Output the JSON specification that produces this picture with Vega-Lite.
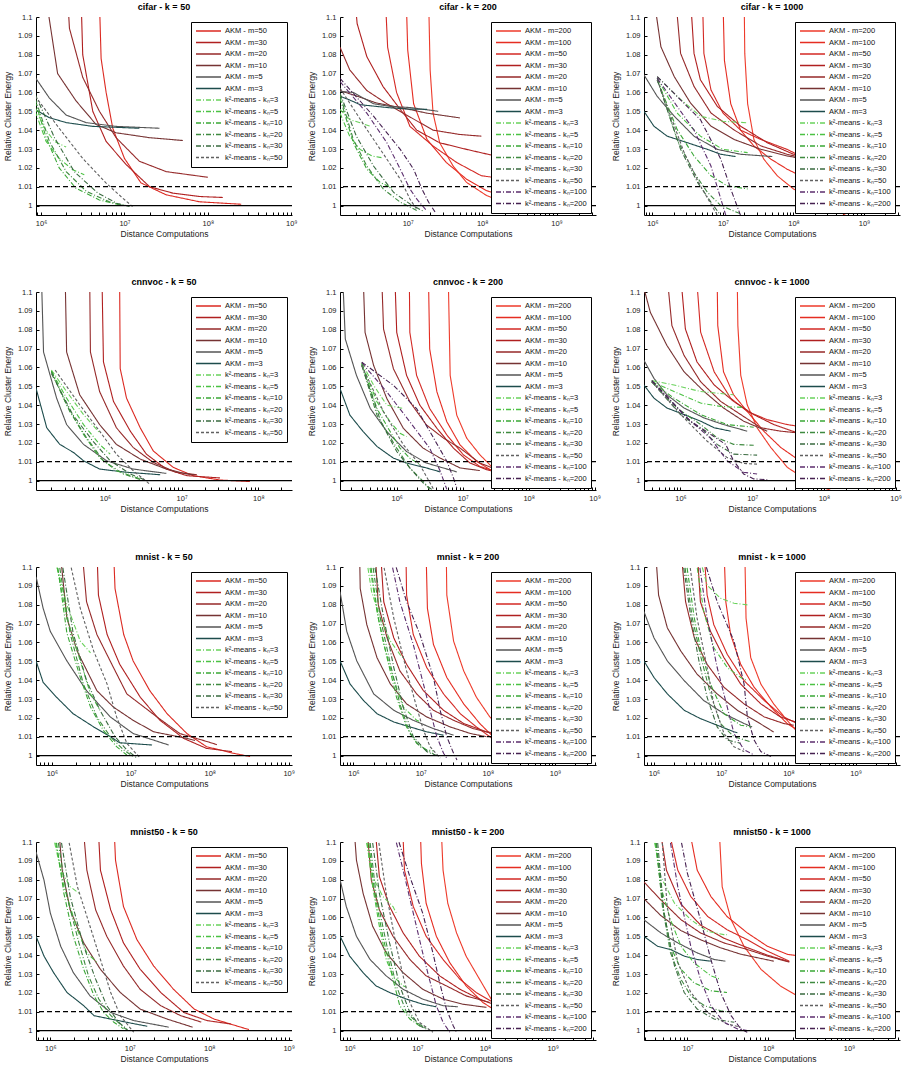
{
"$schema":"https://vega.github.io/schema/vega-lite/v6.json",
"padding":{"left":3,"top":3,"right":0,"bottom":0},
"config":{"view":{"stroke":null,"continuousWidth":256,"continuousHeight":198},"font":"Liberation Sans","numberFormat":".3~g",
"title":{"fontSize":9,"fontWeight":"bold","offset":1,"color":"#000","frame":"group"},
"axis":{"domainColor":"#000","tickColor":"#000","labelColor":"#222","titleColor":"#222","labelFontSize":7.5,"titleFontSize":8.5,"titleFontWeight":"normal","grid":false,"tickSize":-3,"labelPadding":7,"domainWidth":1,"labelOverlap":false},
"axisX":{"labelFlush":false,"labelOverlap":false,"titlePadding":3},
"axisY":{"titlePadding":5,"labelOverlap":false,"labelSeparation":-40,"labelBound":false},
"legend":{"orient":"top-right","offset":5,"padding":4,"fillColor":"white","strokeColor":"#000","labelFontSize":7.5,"labelColor":"#111","symbolType":"stroke","symbolSize":625,"symbolStrokeWidth":1.5,"clipHeight":10,"rowPadding":1.5,"labelLimit":200,"labelOffset":3}},
"resolve":{"scale":{"color":"independent","strokeDash":"independent"},"legend":{"color":"independent","strokeDash":"independent"}},
"columns":3,"spacing":{"row":77,"column":48},"bounds":"flush",
"datasets":{
"c50":[
{"s":"A50","x":5.0e6,"y":1.11},{"s":"A50","x":5.25e6,"y":1.078},{"s":"A50","x":6.03e6,"y":1.06},{"s":"A50","x":7.24e6,"y":1.041},{"s":"A50","x":1e7,"y":1.025},{"s":"A50","x":1.58e7,"y":1.012},{"s":"A50","x":3.16e7,"y":1.0057},{"s":"A50","x":7.94e7,"y":1.002},{"s":"A50","x":2.51e8,"y":1.0007},
{"s":"A30","x":3.02e6,"y":1.11},{"s":"A30","x":3.16e6,"y":1.08},{"s":"A30","x":4.17e6,"y":1.05},{"s":"A30","x":6.03e6,"y":1.034},{"s":"A30","x":1.05e7,"y":1.0217},{"s":"A30","x":2e7,"y":1.01},{"s":"A30","x":3.8e7,"y":1.0066},{"s":"A30","x":7.94e7,"y":1.0048},{"s":"A30","x":1.51e8,"y":1.0043},
{"s":"A20","x":2.09e6,"y":1.11},{"s":"A20","x":2.19e6,"y":1.094},{"s":"A20","x":3.16e6,"y":1.068},{"s":"A20","x":5.01e6,"y":1.05},{"s":"A20","x":7.94e6,"y":1.036},{"s":"A20","x":1.51e7,"y":1.0235},{"s":"A20","x":3.16e7,"y":1.018},{"s":"A20","x":1e8,"y":1.015},
{"s":"A10","x":1.15e6,"y":1.11},{"s":"A10","x":1.58e6,"y":1.07},{"s":"A10","x":2.63e6,"y":1.0555},{"s":"A10","x":4.57e6,"y":1.043},{"s":"A10","x":7.94e6,"y":1.0386},{"s":"A10","x":2e7,"y":1.036},{"s":"A10","x":5.01e7,"y":1.0345},
{"s":"A5","x":8.5e5,"y":1.068},{"s":"A5","x":1.26e6,"y":1.057},{"s":"A5","x":2e6,"y":1.048},{"s":"A5","x":3.47e6,"y":1.044},{"s":"A5","x":7.94e6,"y":1.042},{"s":"A5","x":2.63e7,"y":1.041},
{"s":"A3","x":8.5e5,"y":1.051},{"s":"A3","x":1.26e6,"y":1.0466},{"s":"A3","x":2e6,"y":1.044},{"s":"A3","x":4.17e6,"y":1.042},{"s":"A3","x":1.51e7,"y":1.041},
{"s":"K3","x":8.5e5,"y":1.052},{"s":"K3","x":1.1e6,"y":1.041},{"s":"K3","x":1.45e6,"y":1.034},{"s":"K3","x":2e6,"y":1.031},
{"s":"K5","x":8.5e5,"y":1.05},{"s":"K5","x":1.15e6,"y":1.034},{"s":"K5","x":1.65e6,"y":1.025},{"s":"K5","x":2.4e6,"y":1.019},{"s":"K5","x":3.3e6,"y":1.0164},
{"s":"K10","x":8.5e5,"y":1.0555},{"s":"K10","x":1.15e6,"y":1.036},{"s":"K10","x":1.65e6,"y":1.02},{"s":"K10","x":2.6e6,"y":1.0093},{"s":"K10","x":5e6,"y":1.003},{"s":"K10","x":9.5e6,"y":1.0},
{"s":"K20","x":8.5e5,"y":1.057},{"s":"K20","x":1.26e6,"y":1.034},{"s":"K20","x":2e6,"y":1.018},{"s":"K20","x":3.5e6,"y":1.0075},{"s":"K20","x":6.6e6,"y":1.002},{"s":"K20","x":1.05e7,"y":1.0},
{"s":"K30","x":8.5e5,"y":1.059},{"s":"K30","x":1.45e6,"y":1.036},{"s":"K30","x":2.5e6,"y":1.018},{"s":"K30","x":4.8e6,"y":1.0066},{"s":"K30","x":8.3e6,"y":1.001},{"s":"K30","x":1.15e7,"y":0.9995},
{"s":"K50","x":8.5e5,"y":1.058},{"s":"K50","x":1.65e6,"y":1.041},{"s":"K50","x":3.16e6,"y":1.025},{"s":"K50","x":6e6,"y":1.012},{"s":"K50","x":9.5e6,"y":1.004},{"s":"K50","x":1.25e7,"y":0.9995}],
"c200":[
{"s":"A200","x":1.91e7,"y":1.11},{"s":"A200","x":2e7,"y":1.072},{"s":"A200","x":2.19e7,"y":1.049},{"s":"A200","x":2.69e7,"y":1.0333},{"s":"A200","x":4.07e7,"y":1.021},{"s":"A200","x":6.17e7,"y":1.0123},{"s":"A200","x":1.15e8,"y":1.0053},{"s":"A200","x":1.74e8,"y":1.0026},{"s":"A200","x":6.31e8,"y":1.0},
{"s":"A100","x":9.55e6,"y":1.11},{"s":"A100","x":1e7,"y":1.0825},{"s":"A100","x":1.2e7,"y":1.054},{"s":"A100","x":1.82e7,"y":1.035},{"s":"A100","x":3.31e7,"y":1.0228},{"s":"A100","x":6.17e7,"y":1.014},{"s":"A100","x":1.15e8,"y":1.0079},{"s":"A100","x":2.14e8,"y":1.0044},{"s":"A100","x":6.31e8,"y":1.002},
{"s":"A50","x":5.01e6,"y":1.11},{"s":"A50","x":5.37e6,"y":1.084},{"s":"A50","x":7.08e6,"y":1.06},{"s":"A50","x":1.07e7,"y":1.042},{"s":"A50","x":2.19e7,"y":1.0316},{"s":"A50","x":4.57e7,"y":1.0228},{"s":"A50","x":9.77e7,"y":1.0158},{"s":"A50","x":1.41e8,"y":1.015},{"s":"A50","x":6.31e8,"y":1.013},
{"s":"A30","x":1.95e6,"y":1.11},{"s":"A30","x":2.09e6,"y":1.0965},{"s":"A30","x":2.82e6,"y":1.079},{"s":"A30","x":4.68e6,"y":1.063},{"s":"A30","x":7.94e6,"y":1.051},{"s":"A30","x":1.32e7,"y":1.04},{"s":"A30","x":2.69e7,"y":1.0333},{"s":"A30","x":6.17e7,"y":1.0298},{"s":"A30","x":1.26e8,"y":1.027},{"s":"A30","x":3.16e8,"y":1.025},
{"s":"A20","x":1.23e6,"y":1.084},{"s":"A20","x":1.66e6,"y":1.072},{"s":"A20","x":2.82e6,"y":1.061},{"s":"A20","x":5.25e6,"y":1.054},{"s":"A20","x":1.07e7,"y":1.047},{"s":"A20","x":2.19e7,"y":1.04},{"s":"A20","x":5.01e7,"y":1.0377},{"s":"A20","x":9.77e7,"y":1.0368},
{"s":"A10","x":1.23e6,"y":1.061},{"s":"A10","x":2.09e6,"y":1.058},{"s":"A10","x":3.8e6,"y":1.0544},{"s":"A10","x":7.94e6,"y":1.052},{"s":"A10","x":1.82e7,"y":1.049},{"s":"A10","x":5.01e7,"y":1.0465},
{"s":"A5","x":1.23e6,"y":1.0605},{"s":"A5","x":1.86e6,"y":1.06},{"s":"A5","x":3.47e6,"y":1.054},{"s":"A5","x":5.75e6,"y":1.0526},{"s":"A5","x":1.07e7,"y":1.052},{"s":"A5","x":2.57e7,"y":1.05},
{"s":"A3","x":1.23e6,"y":1.058},{"s":"A3","x":1.66e6,"y":1.056},{"s":"A3","x":2.29e6,"y":1.0535},{"s":"A3","x":5.25e6,"y":1.052},{"s":"A3","x":9.77e6,"y":1.0512},{"s":"A3","x":1.82e7,"y":1.051},
{"s":"K3","x":1.23e6,"y":1.051},{"s":"K3","x":1.66e6,"y":1.0456},{"s":"K3","x":2.29e6,"y":1.0439},{"s":"K3","x":3.16e6,"y":1.042},
{"s":"K5","x":1.23e6,"y":1.049},{"s":"K5","x":1.66e6,"y":1.0368},{"s":"K5","x":2.29e6,"y":1.0298},{"s":"K5","x":3.31e6,"y":1.0263},{"s":"K5","x":4.47e6,"y":1.0254},
{"s":"K10","x":1.23e6,"y":1.057},{"s":"K10","x":1.86e6,"y":1.0333},{"s":"K10","x":2.82e6,"y":1.0193},{"s":"K10","x":4.27e6,"y":1.0123},{"s":"K10","x":6.46e6,"y":1.0088},
{"s":"K20","x":1.23e6,"y":1.0588},{"s":"K20","x":1.86e6,"y":1.035},{"s":"K20","x":2.82e6,"y":1.021},{"s":"K20","x":4.68e6,"y":1.0088},{"s":"K20","x":7.94e6,"y":1.0018},{"s":"K20","x":1.32e7,"y":0.9974},
{"s":"K30","x":1.23e6,"y":1.0596},{"s":"K30","x":2.04e6,"y":1.0368},{"s":"K30","x":3.47e6,"y":1.021},{"s":"K30","x":6.46e6,"y":1.007},{"s":"K30","x":1.07e7,"y":1.0009},{"s":"K30","x":1.62e7,"y":0.997},
{"s":"K50","x":1.23e6,"y":1.0623},{"s":"K50","x":2.82e6,"y":1.0404},{"s":"K50","x":5.25e6,"y":1.0246},{"s":"K50","x":7.94e6,"y":1.014},{"s":"K50","x":1.07e7,"y":1.0035},{"s":"K50","x":1.32e7,"y":0.998},
{"s":"K100","x":1.23e6,"y":1.0658},{"s":"K100","x":2.82e6,"y":1.049},{"s":"K100","x":5.25e6,"y":1.0333},{"s":"K100","x":7.94e6,"y":1.0193},{"s":"K100","x":1.07e7,"y":1.0088},{"s":"K100","x":1.32e7,"y":1.0035},{"s":"K100","x":1.82e7,"y":0.997},
{"s":"K200","x":1.23e6,"y":1.0675},{"s":"K200","x":3.47e6,"y":1.0474},{"s":"K200","x":7.94e6,"y":1.0298},{"s":"K200","x":1.2e7,"y":1.0193},{"s":"K200","x":1.55e7,"y":1.0088},{"s":"K200","x":1.91e7,"y":1.0018},{"s":"K200","x":2.34e7,"y":0.9965}],
"c1k":[
{"s":"A200","x":2e7,"y":1.11},{"s":"A200","x":2.04e7,"y":1.0807},{"s":"A200","x":2.24e7,"y":1.054},{"s":"A200","x":2.75e7,"y":1.035},{"s":"A200","x":3.8e7,"y":1.0246},{"s":"A200","x":5.89e7,"y":1.0158},{"s":"A200","x":1e8,"y":1.0088},{"s":"A200","x":1.95e8,"y":1.0035},{"s":"A200","x":3.72e8,"y":0.9991},{"s":"A200","x":5.5e8,"y":0.9947},
{"s":"A100","x":1e7,"y":1.11},{"s":"A100","x":1.05e7,"y":1.077},{"s":"A100","x":1.29e7,"y":1.054},{"s":"A100","x":1.78e7,"y":1.04},{"s":"A100","x":2.75e7,"y":1.0316},{"s":"A100","x":4.79e7,"y":1.0246},{"s":"A100","x":8.13e7,"y":1.0193},{"s":"A100","x":1.26e8,"y":1.0158},{"s":"A100","x":3.72e8,"y":1.005},
{"s":"A50","x":5.13e6,"y":1.11},{"s":"A50","x":5.37e6,"y":1.0807},{"s":"A50","x":6.76e6,"y":1.0614},{"s":"A50","x":1e7,"y":1.0491},{"s":"A50","x":1.78e7,"y":1.04},{"s":"A50","x":3.47e7,"y":1.035},{"s":"A50","x":8.13e7,"y":1.0298},{"s":"A50","x":1.12e8,"y":1.0272},{"s":"A50","x":3.16e8,"y":1.025},
{"s":"A30","x":3.47e6,"y":1.11},{"s":"A30","x":3.89e6,"y":1.0807},{"s":"A30","x":4.79e6,"y":1.0667},{"s":"A30","x":8.32e6,"y":1.0526},{"s":"A30","x":1.78e7,"y":1.0421},{"s":"A30","x":4.27e7,"y":1.0333},{"s":"A30","x":1e8,"y":1.0272},{"s":"A30","x":3.16e8,"y":1.025},
{"s":"A20","x":2.14e6,"y":1.11},{"s":"A20","x":2.51e6,"y":1.0807},{"s":"A20","x":3.89e6,"y":1.0632},{"s":"A20","x":6.76e6,"y":1.0491},{"s":"A20","x":1.45e7,"y":1.04},{"s":"A20","x":3.47e7,"y":1.0316},{"s":"A20","x":8.13e7,"y":1.0272},{"s":"A20","x":1.12e8,"y":1.026},
{"s":"A10","x":1.05e6,"y":1.11},{"s":"A10","x":1.32e6,"y":1.0842},{"s":"A10","x":2.04e6,"y":1.0684},{"s":"A10","x":3.47e6,"y":1.0544},{"s":"A10","x":6.76e6,"y":1.0421},{"s":"A10","x":1.45e7,"y":1.035},{"s":"A10","x":3.47e7,"y":1.0298},{"s":"A10","x":8.13e7,"y":1.0263},{"s":"A10","x":1.12e8,"y":1.0254},
{"s":"A5","x":7.6e5,"y":1.0693},{"s":"A5","x":1.17e6,"y":1.0579},{"s":"A5","x":2.04e6,"y":1.0474},{"s":"A5","x":3.89e6,"y":1.0368},{"s":"A5","x":8.32e6,"y":1.0298},{"s":"A5","x":1.78e7,"y":1.0272},{"s":"A5","x":5.01e7,"y":1.026},
{"s":"A3","x":7.6e5,"y":1.05},{"s":"A3","x":1.05e6,"y":1.0421},{"s":"A3","x":1.62e6,"y":1.0368},{"s":"A3","x":3.16e6,"y":1.0333},{"s":"A3","x":6.03e6,"y":1.0298},{"s":"A3","x":9.33e6,"y":1.0272},{"s":"A3","x":1.51e7,"y":1.026},
{"s":"K3","x":1.17e6,"y":1.0684},{"s":"K3","x":2.24e6,"y":1.0579},{"s":"K3","x":4.79e6,"y":1.0474},{"s":"K3","x":1e7,"y":1.0447},{"s":"K3","x":2.24e7,"y":1.0439},
{"s":"K5","x":1.17e6,"y":1.0675},{"s":"K5","x":2.24e6,"y":1.0491},{"s":"K5","x":4.79e6,"y":1.0368},{"s":"K5","x":1e7,"y":1.0298},{"s":"K5","x":2.24e7,"y":1.0281},
{"s":"K10","x":1.17e6,"y":1.0667},{"s":"K10","x":2.24e6,"y":1.0404},{"s":"K10","x":3.89e6,"y":1.0263},{"s":"K10","x":6.76e6,"y":1.0158},{"s":"K10","x":1.15e7,"y":1.0105},{"s":"K10","x":2.24e7,"y":1.0088},
{"s":"K20","x":1.17e6,"y":1.0675},{"s":"K20","x":2.24e6,"y":1.035},{"s":"K20","x":3.89e6,"y":1.0175},{"s":"K20","x":6.03e6,"y":1.007},{"s":"K20","x":9.33e6,"y":1.0},{"s":"K20","x":1.78e7,"y":0.9956},
{"s":"K30","x":1.17e6,"y":1.0667},{"s":"K30","x":2.51e6,"y":1.0298},{"s":"K30","x":4.37e6,"y":1.0123},{"s":"K30","x":6.76e6,"y":1.0018},{"s":"K30","x":9.33e6,"y":0.9947},
{"s":"K50","x":1.17e6,"y":1.0667},{"s":"K50","x":2.82e6,"y":1.0281},{"s":"K50","x":4.79e6,"y":1.0105},{"s":"K50","x":7.41e6,"y":0.9982},{"s":"K50","x":8.32e6,"y":0.995},
{"s":"K100","x":1.17e6,"y":1.0675},{"s":"K100","x":3.89e6,"y":1.04},{"s":"K100","x":6.76e6,"y":1.021},{"s":"K100","x":9.33e6,"y":1.0035},{"s":"K100","x":1.1e7,"y":0.9947},
{"s":"K200","x":1.17e6,"y":1.0684},{"s":"K200","x":4.79e6,"y":1.0456},{"s":"K200","x":9.33e6,"y":1.0246},{"s":"K200","x":1.29e7,"y":1.0088},{"s":"K200","x":1.78e7,"y":0.9947}],
"v50":[
{"s":"A50","x":1.55e6,"y":1.11},{"s":"A50","x":1.58e6,"y":1.0594},{"s":"A50","x":1.91e6,"y":1.0437},{"s":"A50","x":2.88e6,"y":1.028},{"s":"A50","x":4.27e6,"y":1.0157},{"s":"A50","x":7.76e6,"y":1.007},{"s":"A50","x":1.41e7,"y":1.0026},{"s":"A50","x":3.16e7,"y":1.0003},{"s":"A50","x":7.76e7,"y":0.9995},
{"s":"A30","x":9.12e5,"y":1.11},{"s":"A30","x":9.55e5,"y":1.063},{"s":"A30","x":1.29e6,"y":1.042},{"s":"A30","x":2.14e6,"y":1.0262},{"s":"A30","x":3.47e6,"y":1.014},{"s":"A30","x":6.31e6,"y":1.0061},{"s":"A30","x":1.17e7,"y":1.0026},{"s":"A30","x":3.16e7,"y":1.0014},
{"s":"A20","x":6.31e5,"y":1.11},{"s":"A20","x":6.46e5,"y":1.0682},{"s":"A20","x":8.51e5,"y":1.0472},{"s":"A20","x":1.41e6,"y":1.028},{"s":"A20","x":2.34e6,"y":1.0175},{"s":"A20","x":4.27e6,"y":1.0096},{"s":"A20","x":8.51e6,"y":1.0044},{"s":"A20","x":1.58e7,"y":1.0031},
{"s":"A10","x":3.02e5,"y":1.11},{"s":"A10","x":3.16e5,"y":1.0682},{"s":"A10","x":4.68e5,"y":1.0455},{"s":"A10","x":8.51e5,"y":1.0297},{"s":"A10","x":1.41e6,"y":1.0192},{"s":"A10","x":2.88e6,"y":1.0114},{"s":"A10","x":6.31e6,"y":1.0061},{"s":"A10","x":1.17e7,"y":1.0035},{"s":"A10","x":1.48e7,"y":1.003},
{"s":"A5","x":1.48e5,"y":1.11},{"s":"A5","x":1.58e5,"y":1.0682},{"s":"A5","x":2.34e5,"y":1.0437},{"s":"A5","x":3.16e5,"y":1.0297},{"s":"A5","x":5.25e5,"y":1.0192},{"s":"A5","x":1.05e6,"y":1.0105},{"s":"A5","x":2.34e6,"y":1.0061},{"s":"A5","x":6.31e6,"y":1.0038},
{"s":"A3","x":1.26e5,"y":1.049},{"s":"A3","x":1.74e5,"y":1.028},{"s":"A3","x":2.57e5,"y":1.0192},{"s":"A3","x":3.89e5,"y":1.0149},{"s":"A3","x":5.25e5,"y":1.0105},{"s":"A3","x":8.51e5,"y":1.0061},{"s":"A3","x":1.91e6,"y":1.0044},{"s":"A3","x":5.25e6,"y":1.0031},
{"s":"K3","x":2e5,"y":1.0586},{"s":"K3","x":3.16e5,"y":1.0472},{"s":"K3","x":5.25e5,"y":1.035},{"s":"K3","x":8.51e5,"y":1.0253},
{"s":"K5","x":2e5,"y":1.058},{"s":"K5","x":3.16e5,"y":1.0437},{"s":"K5","x":5.25e5,"y":1.0297},{"s":"K5","x":8.51e5,"y":1.0192},{"s":"K5","x":1.17e6,"y":1.014},
{"s":"K10","x":2e5,"y":1.058},{"s":"K10","x":3.16e5,"y":1.0402},{"s":"K10","x":5.25e5,"y":1.0245},{"s":"K10","x":8.51e5,"y":1.0122},{"s":"K10","x":1.41e6,"y":1.0052},{"s":"K10","x":2.88e6,"y":1.0009},
{"s":"K20","x":2e5,"y":1.0577},{"s":"K20","x":3.47e5,"y":1.0367},{"s":"K20","x":5.75e5,"y":1.0227},{"s":"K20","x":9.55e5,"y":1.0105},{"s":"K20","x":1.74e6,"y":1.0035},{"s":"K20","x":3.16e6,"y":1.0},
{"s":"K30","x":2e5,"y":1.0568},{"s":"K30","x":3.8e5,"y":1.035},{"s":"K30","x":6.92e5,"y":1.021},{"s":"K30","x":1.17e6,"y":1.0105},{"s":"K30","x":2.14e6,"y":1.0035},{"s":"K30","x":3.47e6,"y":1.0},
{"s":"K50","x":2.24e5,"y":1.0586},{"s":"K50","x":4.68e5,"y":1.0402},{"s":"K50","x":8.51e5,"y":1.0262},{"s":"K50","x":1.41e6,"y":1.014},{"s":"K50","x":2.34e6,"y":1.0052},{"s":"K50","x":3.89e6,"y":0.9979}],
"v200":[
{"s":"A200","x":6.03e6,"y":1.11},{"s":"A200","x":6.46e6,"y":1.0558},{"s":"A200","x":8.13e6,"y":1.0347},{"s":"A200","x":1.15e7,"y":1.0225},{"s":"A200","x":1.82e7,"y":1.0137},{"s":"A200","x":2.88e7,"y":1.0067},{"s":"A200","x":4.68e7,"y":1.0032},{"s":"A200","x":1.17e8,"y":0.9996},{"s":"A200","x":2.95e8,"y":0.9988},
{"s":"A100","x":3.02e6,"y":1.11},{"s":"A100","x":3.16e6,"y":1.0698},{"s":"A100","x":4.07e6,"y":1.047},{"s":"A100","x":5.75e6,"y":1.0312},{"s":"A100","x":9.12e6,"y":1.0189},{"s":"A100","x":1.62e7,"y":1.0102},{"s":"A100","x":2.88e7,"y":1.0049},{"s":"A100","x":5.89e7,"y":1.0014},{"s":"A100","x":1.48e8,"y":0.997},
{"s":"A50","x":1.55e6,"y":1.11},{"s":"A50","x":1.58e6,"y":1.0786},{"s":"A50","x":2e6,"y":1.0558},{"s":"A50","x":3.16e6,"y":1.0382},{"s":"A50","x":5.75e6,"y":1.0242},{"s":"A50","x":1.02e7,"y":1.0137},{"s":"A50","x":1.82e7,"y":1.0075},{"s":"A50","x":3.72e7,"y":1.004},{"s":"A50","x":1e8,"y":1.002},
{"s":"A30","x":9.33e5,"y":1.11},{"s":"A30","x":1e6,"y":1.0786},{"s":"A30","x":1.41e6,"y":1.0558},{"s":"A30","x":2.24e6,"y":1.04},{"s":"A30","x":4.07e6,"y":1.0277},{"s":"A30","x":7.24e6,"y":1.0172},{"s":"A30","x":1.29e7,"y":1.0093},{"s":"A30","x":2.29e7,"y":1.0058},{"s":"A30","x":3.72e7,"y":1.004},
{"s":"A20","x":5.89e5,"y":1.11},{"s":"A20","x":6.31e5,"y":1.0804},{"s":"A20","x":8.91e5,"y":1.0593},{"s":"A20","x":1.58e6,"y":1.0418},{"s":"A20","x":2.82e6,"y":1.0295},{"s":"A20","x":5.13e6,"y":1.0225},{"s":"A20","x":9.12e6,"y":1.0172},{"s":"A20","x":1.82e7,"y":1.0093},{"s":"A20","x":3.31e7,"y":1.0058},
{"s":"A10","x":3.09e5,"y":1.11},{"s":"A10","x":3.31e5,"y":1.0786},{"s":"A10","x":4.47e5,"y":1.061},{"s":"A10","x":7.08e5,"y":1.0435},{"s":"A10","x":1.26e6,"y":1.0277},{"s":"A10","x":2.51e6,"y":1.0172},{"s":"A10","x":4.57e6,"y":1.0119},{"s":"A10","x":9.12e6,"y":1.0067},{"s":"A10","x":1.82e7,"y":1.0053},
{"s":"A5","x":1.51e5,"y":1.11},{"s":"A5","x":1.66e5,"y":1.0751},{"s":"A5","x":2.45e5,"y":1.0558},{"s":"A5","x":3.98e5,"y":1.0382},{"s":"A5","x":7.08e5,"y":1.026},{"s":"A5","x":1.41e6,"y":1.0154},{"s":"A5","x":2.82e6,"y":1.0093},{"s":"A5","x":8.13e6,"y":1.0046},
{"s":"A3","x":1.38e5,"y":1.0488},{"s":"A3","x":1.95e5,"y":1.0347},{"s":"A3","x":3.09e5,"y":1.026},{"s":"A3","x":5.01e5,"y":1.0181},{"s":"A3","x":8.91e5,"y":1.0119},{"s":"A3","x":1.41e6,"y":1.0093},{"s":"A3","x":2.82e6,"y":1.0067},{"s":"A3","x":4.57e6,"y":1.0046},
{"s":"K3","x":2.95e5,"y":1.0625},{"s":"K3","x":4.47e5,"y":1.0505},{"s":"K3","x":7.08e5,"y":1.04},{"s":"K3","x":1.26e6,"y":1.0382},
{"s":"K5","x":2.95e5,"y":1.062},{"s":"K5","x":5.01e5,"y":1.0418},{"s":"K5","x":7.94e5,"y":1.0312},{"s":"K5","x":1.12e6,"y":1.0251},{"s":"K5","x":1.41e6,"y":1.0233},
{"s":"K10","x":2.95e5,"y":1.062},{"s":"K10","x":5.01e5,"y":1.0382},{"s":"K10","x":7.94e5,"y":1.026},{"s":"K10","x":1.12e6,"y":1.0172},{"s":"K10","x":1.58e6,"y":1.0119},{"s":"K10","x":2.24e6,"y":1.0084},
{"s":"K20","x":2.95e5,"y":1.0614},{"s":"K20","x":5.01e5,"y":1.0347},{"s":"K20","x":1e6,"y":1.0172},{"s":"K20","x":1.58e6,"y":1.0067},{"s":"K20","x":2.51e6,"y":0.9996},{"s":"K20","x":3.16e6,"y":0.9953},
{"s":"K30","x":2.95e5,"y":1.061},{"s":"K30","x":5.75e5,"y":1.0312},{"s":"K30","x":1e6,"y":1.0154},{"s":"K30","x":1.58e6,"y":1.0067},{"s":"K30","x":2.51e6,"y":0.9988},{"s":"K30","x":3.39e6,"y":0.9953},
{"s":"K50","x":2.95e5,"y":1.061},{"s":"K50","x":6.31e5,"y":1.0365},{"s":"K50","x":1.26e6,"y":1.019},{"s":"K50","x":2.24e6,"y":1.0084},{"s":"K50","x":3.63e6,"y":0.9953},
{"s":"K100","x":2.95e5,"y":1.0625},{"s":"K100","x":7.08e5,"y":1.047},{"s":"K100","x":1.58e6,"y":1.0312},{"s":"K100","x":3.16e6,"y":1.0172},{"s":"K100","x":4.57e6,"y":1.0049},{"s":"K100","x":5.75e6,"y":0.9953},
{"s":"K200","x":2.95e5,"y":1.0628},{"s":"K200","x":8.91e5,"y":1.0505},{"s":"K200","x":2e6,"y":1.0382},{"s":"K200","x":3.63e6,"y":1.0225},{"s":"K200","x":5.75e6,"y":1.0102},{"s":"K200","x":7.24e6,"y":1.0014},{"s":"K200","x":8.13e6,"y":0.9961}],
"v1k":[
{"s":"A200","x":6.17e6,"y":1.11},{"s":"A200","x":6.31e6,"y":1.0822},{"s":"A200","x":6.92e6,"y":1.0559},{"s":"A200","x":8.51e6,"y":1.0402},{"s":"A200","x":1.17e7,"y":1.028},{"s":"A200","x":1.82e7,"y":1.0175},{"s":"A200","x":3.09e7,"y":1.007},{"s":"A200","x":5.89e7,"y":1.0},{"s":"A200","x":1.23e8,"y":0.9948},
{"s":"A100","x":3.24e6,"y":1.11},{"s":"A100","x":3.31e6,"y":1.0822},{"s":"A100","x":3.98e6,"y":1.0577},{"s":"A100","x":5.5e6,"y":1.0455},{"s":"A100","x":8.51e6,"y":1.0367},{"s":"A100","x":1.45e7,"y":1.0262},{"s":"A100","x":2.51e7,"y":1.0175},{"s":"A100","x":4.27e7,"y":1.0114},{"s":"A100","x":8.13e7,"y":1.0052},{"s":"A100","x":2e8,"y":1.001},
{"s":"A50","x":1.66e6,"y":1.11},{"s":"A50","x":1.91e6,"y":1.0787},{"s":"A50","x":2.95e6,"y":1.0577},{"s":"A50","x":5.01e6,"y":1.0437},{"s":"A50","x":8.51e6,"y":1.0367},{"s":"A50","x":1.62e7,"y":1.0323},{"s":"A50","x":3.09e7,"y":1.0297},{"s":"A50","x":5.89e7,"y":1.028},{"s":"A50","x":1.58e8,"y":1.026},
{"s":"A30","x":1e6,"y":1.11},{"s":"A30","x":1.17e6,"y":1.0804},{"s":"A30","x":1.7e6,"y":1.0629},{"s":"A30","x":2.95e6,"y":1.0507},{"s":"A30","x":5.5e6,"y":1.042},{"s":"A30","x":1.05e7,"y":1.035},{"s":"A30","x":2e7,"y":1.0297},{"s":"A30","x":4.27e7,"y":1.0253},{"s":"A30","x":1e8,"y":1.024},
{"s":"A20","x":6.46e5,"y":1.11},{"s":"A20","x":7.59e5,"y":1.0822},{"s":"A20","x":1.12e6,"y":1.0664},{"s":"A20","x":1.91e6,"y":1.0524},{"s":"A20","x":3.63e6,"y":1.042},{"s":"A20","x":6.92e6,"y":1.035},{"s":"A20","x":1.32e7,"y":1.028},{"s":"A20","x":2.51e7,"y":1.0262},{"s":"A20","x":4.27e7,"y":1.0253},
{"s":"A10","x":3.09e5,"y":1.102},{"s":"A10","x":3.8e5,"y":1.0892},{"s":"A10","x":6.46e5,"y":1.0717},{"s":"A10","x":1.12e6,"y":1.0577},{"s":"A10","x":2.14e6,"y":1.0472},{"s":"A10","x":3.98e6,"y":1.0385},{"s":"A10","x":7.59e6,"y":1.0315},{"s":"A10","x":1.62e7,"y":1.0262},
{"s":"A5","x":3.09e5,"y":1.0638},{"s":"A5","x":4.27e5,"y":1.0542},{"s":"A5","x":6.46e5,"y":1.0455},{"s":"A5","x":1.12e6,"y":1.0385},{"s":"A5","x":2.14e6,"y":1.0332},{"s":"A5","x":3.98e6,"y":1.0297},{"s":"A5","x":8.51e6,"y":1.0262},
{"s":"A3","x":3.09e5,"y":1.0507},{"s":"A3","x":4.27e5,"y":1.0437},{"s":"A3","x":6.46e5,"y":1.0385},{"s":"A3","x":1.12e6,"y":1.035},{"s":"A3","x":1.91e6,"y":1.0315},{"s":"A3","x":2.95e6,"y":1.028},{"s":"A3","x":5.01e6,"y":1.0262},
{"s":"K3","x":3.98e5,"y":1.053},{"s":"K3","x":8.13e5,"y":1.0507},{"s":"K3","x":1.91e6,"y":1.0472},{"s":"K3","x":5.5e6,"y":1.0455},
{"s":"K5","x":3.98e5,"y":1.0524},{"s":"K5","x":8.13e5,"y":1.0472},{"s":"K5","x":1.91e6,"y":1.0411},{"s":"K5","x":3.63e6,"y":1.0393},{"s":"K5","x":7.59e6,"y":1.0388},
{"s":"K10","x":3.98e5,"y":1.0524},{"s":"K10","x":8.13e5,"y":1.0437},{"s":"K10","x":1.91e6,"y":1.035},{"s":"K10","x":4.47e6,"y":1.0297},{"s":"K10","x":1.05e7,"y":1.0283},
{"s":"K20","x":3.98e5,"y":1.0524},{"s":"K20","x":8.91e5,"y":1.0385},{"s":"K20","x":1.91e6,"y":1.0297},{"s":"K20","x":3.24e6,"y":1.0227},{"s":"K20","x":5.5e6,"y":1.0192},{"s":"K20","x":1.05e7,"y":1.0187},
{"s":"K30","x":3.98e5,"y":1.0524},{"s":"K30","x":1e6,"y":1.035},{"s":"K30","x":2.14e6,"y":1.0262},{"s":"K30","x":3.24e6,"y":1.0192},{"s":"K30","x":5.5e6,"y":1.014},{"s":"K30","x":1.17e7,"y":1.0135},
{"s":"K50","x":3.98e5,"y":1.0524},{"s":"K50","x":1.12e6,"y":1.0332},{"s":"K50","x":2.34e6,"y":1.021},{"s":"K50","x":4.47e6,"y":1.0122},{"s":"K50","x":7.59e6,"y":1.0091},{"s":"K50","x":1.17e7,"y":1.0087},
{"s":"K100","x":3.98e5,"y":1.053},{"s":"K100","x":1.23e6,"y":1.0332},{"s":"K100","x":2.63e6,"y":1.0224},{"s":"K100","x":4.47e6,"y":1.0105},{"s":"K100","x":7.59e6,"y":1.0044},{"s":"K100","x":1.17e7,"y":1.0035},
{"s":"K200","x":3.98e5,"y":1.053},{"s":"K200","x":1.38e6,"y":1.0315},{"s":"K200","x":2.63e6,"y":1.0245},{"s":"K200","x":4.27e6,"y":1.0192},{"s":"K200","x":5.5e6,"y":1.0105},{"s":"K200","x":7.59e6,"y":1.0035},{"s":"K200","x":1.05e7,"y":1.0009},{"s":"K200","x":1.62e7,"y":1.0005}],
"m50":[
{"s":"A50","x":6.03e6,"y":1.11},{"s":"A50","x":6.31e6,"y":1.0886},{"s":"A50","x":8.13e6,"y":1.0642},{"s":"A50","x":1.07e7,"y":1.0502},{"s":"A50","x":1.74e7,"y":1.0344},{"s":"A50","x":2.88e7,"y":1.0222},{"s":"A50","x":5.13e7,"y":1.0117},{"s":"A50","x":9.12e7,"y":1.0047},{"s":"A50","x":2e8,"y":1.0012},{"s":"A50","x":3.24e8,"y":0.9995},
{"s":"A30","x":3.72e6,"y":1.11},{"s":"A30","x":3.89e6,"y":1.0851},{"s":"A30","x":5.01e6,"y":1.0642},{"s":"A30","x":7.24e6,"y":1.0484},{"s":"A30","x":1.32e7,"y":1.0309},{"s":"A30","x":2.34e7,"y":1.0187},{"s":"A30","x":4.68e7,"y":1.0091},{"s":"A30","x":9.12e7,"y":1.0038},{"s":"A30","x":1.91e8,"y":1.0021},
{"s":"A20","x":2.4e6,"y":1.11},{"s":"A20","x":2.75e6,"y":1.0816},{"s":"A20","x":3.72e6,"y":1.0642},{"s":"A20","x":6.03e6,"y":1.0467},{"s":"A20","x":8.91e6,"y":1.0327},{"s":"A20","x":2.14e7,"y":1.0205},{"s":"A20","x":4.17e7,"y":1.0117},{"s":"A20","x":9.12e7,"y":1.0075},{"s":"A20","x":1.23e8,"y":1.0058},
{"s":"A10","x":1.26e6,"y":1.11},{"s":"A10","x":1.55e6,"y":1.0729},{"s":"A10","x":2.09e6,"y":1.0554},{"s":"A10","x":3.72e6,"y":1.0344},{"s":"A10","x":6.03e6,"y":1.0257},{"s":"A10","x":1.07e7,"y":1.0187},{"s":"A10","x":1.95e7,"y":1.0126},{"s":"A10","x":5.13e7,"y":1.0091},{"s":"A10","x":6.5e7,"y":1.008},
{"s":"A5","x":6.31e5,"y":1.0948},{"s":"A5","x":7.76e5,"y":1.0781},{"s":"A5","x":9.55e5,"y":1.0659},{"s":"A5","x":1.55e6,"y":1.0502},{"s":"A5","x":2.75e6,"y":1.0344},{"s":"A5","x":5.5e6,"y":1.0205},{"s":"A5","x":1.07e7,"y":1.0117},{"s":"A5","x":3.02e7,"y":1.0056},
{"s":"A3","x":6.31e5,"y":1.0502},{"s":"A3","x":7.76e5,"y":1.0388},{"s":"A3","x":1.15e6,"y":1.0309},{"s":"A3","x":1.86e6,"y":1.0222},{"s":"A3","x":3.39e6,"y":1.0152},{"s":"A3","x":5.5e6,"y":1.01},{"s":"A3","x":7.24e6,"y":1.0068},{"s":"A3","x":1.86e7,"y":1.0056},
{"s":"K3","x":1e6,"y":1.11},{"s":"K3","x":1.55e6,"y":1.0799},{"s":"K3","x":2.29e6,"y":1.0607},{"s":"K3","x":3.09e6,"y":1.0545},
{"s":"K5","x":1.05e6,"y":1.11},{"s":"K5","x":1.55e6,"y":1.0729},{"s":"K5","x":2.29e6,"y":1.0502},{"s":"K5","x":3.09e6,"y":1.0327},{"s":"K5","x":4.07e6,"y":1.024},
{"s":"K10","x":1.1e6,"y":1.11},{"s":"K10","x":1.55e6,"y":1.065},{"s":"K10","x":2.29e6,"y":1.0414},{"s":"K10","x":3.09e6,"y":1.0257},{"s":"K10","x":4.47e6,"y":1.0135},{"s":"K10","x":6.61e6,"y":1.0047},{"s":"K10","x":8.91e6,"y":1.0003},
{"s":"K20","x":1.15e6,"y":1.11},{"s":"K20","x":1.7e6,"y":1.065},{"s":"K20","x":2.51e6,"y":1.0379},{"s":"K20","x":3.72e6,"y":1.0205},{"s":"K20","x":5.5e6,"y":1.01},{"s":"K20","x":8.13e6,"y":1.003},{"s":"K20","x":1.07e7,"y":0.9995},
{"s":"K30","x":1.26e6,"y":1.11},{"s":"K30","x":1.86e6,"y":1.065},{"s":"K30","x":2.75e6,"y":1.0397},{"s":"K30","x":4.07e6,"y":1.024},{"s":"K30","x":6.31e6,"y":1.01},{"s":"K30","x":8.91e6,"y":1.003},{"s":"K30","x":1.2e7,"y":0.9986},
{"s":"K50","x":1.55e6,"y":1.11},{"s":"K50","x":2.29e6,"y":1.0781},{"s":"K50","x":3.39e6,"y":1.0554},{"s":"K50","x":5.01e6,"y":1.0379},{"s":"K50","x":6.61e6,"y":1.0205},{"s":"K50","x":8.91e6,"y":1.0065},{"s":"K50","x":1.32e7,"y":0.9986}],
"m200":[
{"s":"A200","x":2.4e7,"y":1.11},{"s":"A200","x":2.45e7,"y":1.0851},{"s":"A200","x":3.09e7,"y":1.0607},{"s":"A200","x":4.37e7,"y":1.0449},{"s":"A200","x":6.76e7,"y":1.0309},{"s":"A200","x":1.07e8,"y":1.0205},{"s":"A200","x":1.51e8,"y":1.0152},{"s":"A200","x":2.69e8,"y":1.0082},{"s":"A200","x":6.31e8,"y":1.004},
{"s":"A100","x":1.2e7,"y":1.11},{"s":"A100","x":1.26e7,"y":1.0781},{"s":"A100","x":1.55e7,"y":1.0589},{"s":"A100","x":2.45e7,"y":1.0414},{"s":"A100","x":4.37e7,"y":1.0274},{"s":"A100","x":7.59e7,"y":1.017},{"s":"A100","x":1.2e8,"y":1.01},{"s":"A100","x":1.91e8,"y":1.0065},{"s":"A100","x":5.01e8,"y":1.003},
{"s":"A50","x":6.03e6,"y":1.11},{"s":"A50","x":6.17e6,"y":1.0851},{"s":"A50","x":7.76e6,"y":1.0642},{"s":"A50","x":1.23e7,"y":1.0467},{"s":"A50","x":2.19e7,"y":1.0327},{"s":"A50","x":3.89e7,"y":1.0222},{"s":"A50","x":6.76e7,"y":1.0152},{"s":"A50","x":1.07e8,"y":1.01},{"s":"A50","x":1.51e8,"y":1.0065},{"s":"A50","x":3.16e8,"y":1.004},
{"s":"A30","x":2.51e6,"y":1.11},{"s":"A30","x":2.82e6,"y":1.0816},{"s":"A30","x":3.98e6,"y":1.0624},{"s":"A30","x":6.17e6,"y":1.0484},{"s":"A30","x":1.1e7,"y":1.0344},{"s":"A30","x":2.19e7,"y":1.024},{"s":"A30","x":4.37e7,"y":1.017},{"s":"A30","x":9.55e7,"y":1.0126},{"s":"A30","x":2e8,"y":1.011},
{"s":"A20","x":2.09e6,"y":1.11},{"s":"A20","x":2.34e6,"y":1.0799},{"s":"A20","x":3.16e6,"y":1.0624},{"s":"A20","x":4.9e6,"y":1.0449},{"s":"A20","x":8.71e6,"y":1.0327},{"s":"A20","x":1.55e7,"y":1.024},{"s":"A20","x":3.09e7,"y":1.0187},{"s":"A20","x":6.03e7,"y":1.0143},{"s":"A20","x":1.2e8,"y":1.0117},
{"s":"A10","x":1.23e6,"y":1.11},{"s":"A10","x":1.26e6,"y":1.0886},{"s":"A10","x":1.58e6,"y":1.0694},{"s":"A10","x":2.24e6,"y":1.0519},{"s":"A10","x":3.55e6,"y":1.0379},{"s":"A10","x":6.17e6,"y":1.0274},{"s":"A10","x":1.23e7,"y":1.0205},{"s":"A10","x":2.75e7,"y":1.0152},{"s":"A10","x":5.5e7,"y":1.0117},{"s":"A10","x":9.55e7,"y":1.01},
{"s":"A5","x":6.31e5,"y":1.0869},{"s":"A5","x":7.94e5,"y":1.0659},{"s":"A5","x":1.12e6,"y":1.0502},{"s":"A5","x":2e6,"y":1.0327},{"s":"A5","x":3.98e6,"y":1.024},{"s":"A5","x":7.76e6,"y":1.0187},{"s":"A5","x":1.55e7,"y":1.0143},{"s":"A5","x":3.09e7,"y":1.0108},
{"s":"A3","x":6.31e5,"y":1.0502},{"s":"A3","x":8.91e5,"y":1.0379},{"s":"A3","x":1.41e6,"y":1.0292},{"s":"A3","x":2.24e6,"y":1.0222},{"s":"A3","x":3.98e6,"y":1.0178},{"s":"A3","x":6.92e6,"y":1.0152},{"s":"A3","x":1.23e7,"y":1.0126},{"s":"A3","x":2.19e7,"y":1.0108},
{"s":"K3","x":1.48e6,"y":1.11},{"s":"K3","x":1.86e6,"y":1.0869},{"s":"K3","x":2.51e6,"y":1.0729},{"s":"K3","x":3.55e6,"y":1.0607},{"s":"K3","x":4.9e6,"y":1.0537},{"s":"K3","x":5.5e6,"y":1.0519},
{"s":"K5","x":1.58e6,"y":1.11},{"s":"K5","x":2.24e6,"y":1.0764},{"s":"K5","x":2.82e6,"y":1.0589},{"s":"K5","x":3.89e6,"y":1.0414},{"s":"K5","x":5.5e6,"y":1.0257},{"s":"K5","x":8.71e6,"y":1.0187},{"s":"K5","x":9.77e6,"y":1.018},
{"s":"K10","x":1.66e6,"y":1.11},{"s":"K10","x":2.34e6,"y":1.0729},{"s":"K10","x":3.16e6,"y":1.0519},{"s":"K10","x":4.37e6,"y":1.0309},{"s":"K10","x":6.17e6,"y":1.0152},{"s":"K10","x":8.71e6,"y":1.0065},{"s":"K10","x":1.23e7,"y":1.003},{"s":"K10","x":1.55e7,"y":1.0025},
{"s":"K20","x":1.78e6,"y":1.11},{"s":"K20","x":2.51e6,"y":1.0729},{"s":"K20","x":3.55e6,"y":1.0484},{"s":"K20","x":4.9e6,"y":1.0274},{"s":"K20","x":6.92e6,"y":1.0117},{"s":"K20","x":9.77e6,"y":1.0047},{"s":"K20","x":1.55e7,"y":1.0009},
{"s":"K30","x":1.86e6,"y":1.11},{"s":"K30","x":2.82e6,"y":1.0729},{"s":"K30","x":3.98e6,"y":1.0467},{"s":"K30","x":5.5e6,"y":1.0257},{"s":"K30","x":7.76e6,"y":1.01},{"s":"K30","x":1.23e7,"y":1.0021},{"s":"K30","x":1.74e7,"y":1.0},
{"s":"K50","x":2.51e6,"y":1.11},{"s":"K50","x":3.98e6,"y":1.0729},{"s":"K50","x":6.17e6,"y":1.0449},{"s":"K50","x":8.71e6,"y":1.0257},{"s":"K50","x":1.1e7,"y":1.0135},{"s":"K50","x":1.38e7,"y":1.0047},{"s":"K50","x":1.95e7,"y":0.9986},
{"s":"K100","x":3.31e6,"y":1.11},{"s":"K100","x":4.9e6,"y":1.0816},{"s":"K100","x":7.76e6,"y":1.0589},{"s":"K100","x":1.1e7,"y":1.0379},{"s":"K100","x":1.38e7,"y":1.024},{"s":"K100","x":1.74e7,"y":1.01},{"s":"K100","x":2.19e7,"y":1.0012},{"s":"K100","x":2.45e7,"y":0.9986},
{"s":"K200","x":3.55e6,"y":1.11},{"s":"K200","x":6.17e6,"y":1.0816},{"s":"K200","x":9.77e6,"y":1.0642},{"s":"K200","x":1.55e7,"y":1.0414},{"s":"K200","x":1.95e7,"y":1.024},{"s":"K200","x":2.45e7,"y":1.01},{"s":"K200","x":3.09e7,"y":1.0012},{"s":"K200","x":3.47e7,"y":0.9977}],
"m1k":[
{"s":"A200","x":2.24e7,"y":1.11},{"s":"A200","x":2.34e7,"y":1.0729},{"s":"A200","x":2.75e7,"y":1.0519},{"s":"A200","x":3.89e7,"y":1.0379},{"s":"A200","x":6.03e7,"y":1.0274},{"s":"A200","x":9.55e7,"y":1.0187},{"s":"A200","x":1.51e8,"y":1.0108},{"s":"A200","x":4.79e8,"y":1.0038},{"s":"A200","x":1.26e9,"y":0.9974},
{"s":"A100","x":1.1e7,"y":1.11},{"s":"A100","x":1.17e7,"y":1.0816},{"s":"A100","x":1.38e7,"y":1.0642},{"s":"A100","x":1.95e7,"y":1.0484},{"s":"A100","x":3.09e7,"y":1.0362},{"s":"A100","x":5.5e7,"y":1.0257},{"s":"A100","x":9.55e7,"y":1.017},{"s":"A100","x":1.51e8,"y":1.0126},{"s":"A100","x":3.02e8,"y":1.0091},
{"s":"A50","x":5.5e6,"y":1.11},{"s":"A50","x":6.17e6,"y":1.0851},{"s":"A50","x":7.76e6,"y":1.0694},{"s":"A50","x":1.23e7,"y":1.0537},{"s":"A50","x":2.19e7,"y":1.0397},{"s":"A50","x":4.37e7,"y":1.0292},{"s":"A50","x":8.51e7,"y":1.0205},{"s":"A50","x":1.51e8,"y":1.0161},{"s":"A50","x":3.16e8,"y":1.013},
{"s":"A30","x":4.37e6,"y":1.11},{"s":"A30","x":4.9e6,"y":1.0816},{"s":"A30","x":6.92e6,"y":1.0659},{"s":"A30","x":1.1e7,"y":1.0519},{"s":"A30","x":1.95e7,"y":1.0379},{"s":"A30","x":3.89e7,"y":1.0274},{"s":"A30","x":7.59e7,"y":1.0205},{"s":"A30","x":1.51e8,"y":1.017},{"s":"A30","x":2.51e8,"y":1.015},
{"s":"A20","x":2.51e6,"y":1.11},{"s":"A20","x":2.95e6,"y":1.0816},{"s":"A20","x":3.98e6,"y":1.0624},{"s":"A20","x":6.17e6,"y":1.0484},{"s":"A20","x":1.1e7,"y":1.0362},{"s":"A20","x":2.19e7,"y":1.0274},{"s":"A20","x":4.37e7,"y":1.0205},{"s":"A20","x":8.51e7,"y":1.017},{"s":"A20","x":1.2e8,"y":1.0161},
{"s":"A10","x":1.05e6,"y":1.11},{"s":"A10","x":1.17e6,"y":1.0851},{"s":"A10","x":1.58e6,"y":1.0677},{"s":"A10","x":2.51e6,"y":1.0554},{"s":"A10","x":4.37e6,"y":1.0432},{"s":"A10","x":8.71e6,"y":1.0327},{"s":"A10","x":1.74e7,"y":1.024},{"s":"A10","x":3.47e7,"y":1.0178},{"s":"A10","x":6.03e7,"y":1.0125},
{"s":"A5","x":7.08e5,"y":1.0764},{"s":"A5","x":1e6,"y":1.0624},{"s":"A5","x":1.58e6,"y":1.0502},{"s":"A5","x":2.82e6,"y":1.0397},{"s":"A5","x":5.5e6,"y":1.0292},{"s":"A5","x":1.1e7,"y":1.0222},{"s":"A5","x":2.19e7,"y":1.017},{"s":"A5","x":2.88e7,"y":1.0152},
{"s":"A3","x":7.08e5,"y":1.0502},{"s":"A3","x":1e6,"y":1.0414},{"s":"A3","x":1.58e6,"y":1.0327},{"s":"A3","x":2.82e6,"y":1.024},{"s":"A3","x":4.9e6,"y":1.0196},{"s":"A3","x":8.71e6,"y":1.0161},{"s":"A3","x":1.55e7,"y":1.0126},{"s":"A3","x":1.74e7,"y":1.0121},
{"s":"K3","x":4.37e6,"y":1.11},{"s":"K3","x":6.17e6,"y":1.0904},{"s":"K3","x":9.77e6,"y":1.0834},{"s":"K3","x":1.55e7,"y":1.0808},{"s":"K3","x":2.45e7,"y":1.0799},
{"s":"K5","x":3.98e6,"y":1.11},{"s":"K5","x":5.5e6,"y":1.0764},{"s":"K5","x":7.76e6,"y":1.0572},{"s":"K5","x":1.23e7,"y":1.0467},{"s":"K5","x":1.95e7,"y":1.0414},{"s":"K5","x":2.45e7,"y":1.0397},
{"s":"K10","x":2.82e6,"y":1.11},{"s":"K10","x":3.98e6,"y":1.0729},{"s":"K10","x":5.01e6,"y":1.0554},{"s":"K10","x":6.92e6,"y":1.0379},{"s":"K10","x":1.1e7,"y":1.0222},{"s":"K10","x":1.95e7,"y":1.0161},{"s":"K10","x":2.75e7,"y":1.0152},
{"s":"K20","x":2.63e6,"y":1.11},{"s":"K20","x":3.72e6,"y":1.0729},{"s":"K20","x":5.01e6,"y":1.0519},{"s":"K20","x":6.92e6,"y":1.0327},{"s":"K20","x":9.77e6,"y":1.017},{"s":"K20","x":1.55e7,"y":1.01},{"s":"K20","x":2.75e7,"y":1.0073},
{"s":"K30","x":2.51e6,"y":1.11},{"s":"K30","x":3.55e6,"y":1.0729},{"s":"K30","x":4.68e6,"y":1.05},{"s":"K30","x":6.17e6,"y":1.0309},{"s":"K30","x":8.71e6,"y":1.0152},{"s":"K30","x":1.23e7,"y":1.0082},{"s":"K30","x":1.95e7,"y":1.0065},
{"s":"K50","x":3.16e6,"y":1.11},{"s":"K50","x":4.37e6,"y":1.0729},{"s":"K50","x":6.17e6,"y":1.0467},{"s":"K50","x":7.76e6,"y":1.0274},{"s":"K50","x":1.1e7,"y":1.0117},{"s":"K50","x":1.55e7,"y":1.0047},{"s":"K50","x":2.19e7,"y":1.0021},
{"s":"K100","x":4.37e6,"y":1.11},{"s":"K100","x":6.17e6,"y":1.0729},{"s":"K100","x":8.71e6,"y":1.0467},{"s":"K100","x":1.23e7,"y":1.0257},{"s":"K100","x":1.55e7,"y":1.0117},{"s":"K100","x":2.19e7,"y":1.003},{"s":"K100","x":3.09e7,"y":1.0003},
{"s":"K200","x":4.9e6,"y":1.11},{"s":"K200","x":8.71e6,"y":1.0816},{"s":"K200","x":1.55e7,"y":1.0607},{"s":"K200","x":2.19e7,"y":1.0379},{"s":"K200","x":2.45e7,"y":1.0205},{"s":"K200","x":3.09e7,"y":1.0082},{"s":"K200","x":3.89e7,"y":1.0021},{"s":"K200","x":5.5e7,"y":0.9995}],
"n50":[
{"s":"A50","x":6.31e6,"y":1.11},{"s":"A50","x":6.61e6,"y":1.0904},{"s":"A50","x":8.32e6,"y":1.0658},{"s":"A50","x":1.23e7,"y":1.0482},{"s":"A50","x":2e7,"y":1.0342},{"s":"A50","x":3.55e7,"y":1.0219},{"s":"A50","x":6.46e7,"y":1.0114},{"s":"A50","x":1.15e8,"y":1.0061},{"s":"A50","x":3.16e8,"y":1.0005},
{"s":"A30","x":3.98e6,"y":1.11},{"s":"A30","x":4.27e6,"y":1.0851},{"s":"A30","x":5.75e6,"y":1.064},{"s":"A30","x":8.32e6,"y":1.0465},{"s":"A30","x":1.35e7,"y":1.0325},{"s":"A30","x":2.45e7,"y":1.0202},{"s":"A30","x":4.79e7,"y":1.0096},{"s":"A30","x":9.33e7,"y":1.0053},{"s":"A30","x":1.86e8,"y":1.0035},
{"s":"A20","x":2.57e6,"y":1.11},{"s":"A20","x":2.88e6,"y":1.0851},{"s":"A20","x":3.72e6,"y":1.064},{"s":"A20","x":5.13e6,"y":1.05},{"s":"A20","x":8.32e6,"y":1.0342},{"s":"A20","x":1.35e7,"y":1.0219},{"s":"A20","x":2.45e7,"y":1.0132},{"s":"A20","x":4.37e7,"y":1.0079},{"s":"A20","x":7.94e7,"y":1.0045},
{"s":"A10","x":1.26e6,"y":1.11},{"s":"A10","x":1.41e6,"y":1.0851},{"s":"A10","x":1.78e6,"y":1.064},{"s":"A10","x":2.63e6,"y":1.0465},{"s":"A10","x":4.27e6,"y":1.0325},{"s":"A10","x":7.59e6,"y":1.0202},{"s":"A10","x":1.35e7,"y":1.0114},{"s":"A10","x":2.95e7,"y":1.0061},{"s":"A10","x":6.17e7,"y":1.0018},
{"s":"A5","x":6.61e5,"y":1.0947},{"s":"A5","x":8.32e5,"y":1.0798},{"s":"A5","x":1e6,"y":1.0623},{"s":"A5","x":1.35e6,"y":1.0447},{"s":"A5","x":1.95e6,"y":1.0307},{"s":"A5","x":3.16e6,"y":1.0184},{"s":"A5","x":5.75e6,"y":1.0096},{"s":"A5","x":1.12e7,"y":1.0053},{"s":"A5","x":3.09e7,"y":1.0018},
{"s":"A3","x":6.61e5,"y":1.05},{"s":"A3","x":8.32e5,"y":1.0395},{"s":"A3","x":1.1e6,"y":1.0307},{"s":"A3","x":1.62e6,"y":1.0202},{"s":"A3","x":2.63e6,"y":1.0132},{"s":"A3","x":3.55e6,"y":1.0079},{"s":"A3","x":5.75e6,"y":1.0061},{"s":"A3","x":1.02e7,"y":1.004},{"s":"A3","x":1.66e7,"y":1.0023},
{"s":"K3","x":1e6,"y":1.11},{"s":"K3","x":1.35e6,"y":1.0851},{"s":"K3","x":1.78e6,"y":1.0763},{"s":"K3","x":2.29e6,"y":1.0728},
{"s":"K5","x":1.05e6,"y":1.11},{"s":"K5","x":1.48e6,"y":1.0763},{"s":"K5","x":2.19e6,"y":1.0535},{"s":"K5","x":2.88e6,"y":1.0412},{"s":"K5","x":3.89e6,"y":1.036},
{"s":"K10","x":1.1e6,"y":1.11},{"s":"K10","x":1.48e6,"y":1.0728},{"s":"K10","x":1.95e6,"y":1.05},{"s":"K10","x":2.63e6,"y":1.0325},{"s":"K10","x":3.55e6,"y":1.0184},{"s":"K10","x":4.68e6,"y":1.0096},{"s":"K10","x":6.31e6,"y":1.0044},{"s":"K10","x":8.32e6,"y":1.0009},
{"s":"K20","x":1.15e6,"y":1.11},{"s":"K20","x":1.62e6,"y":1.071},{"s":"K20","x":2.29e6,"y":1.0465},{"s":"K20","x":3.02e6,"y":1.029},{"s":"K20","x":4.07e6,"y":1.0167},{"s":"K20","x":5.75e6,"y":1.008},{"s":"K20","x":8.32e6,"y":1.0018},{"s":"K20","x":9.77e6,"y":0.9995},
{"s":"K30","x":1.26e6,"y":1.11},{"s":"K30","x":1.78e6,"y":1.071},{"s":"K30","x":2.63e6,"y":1.0447},{"s":"K30","x":3.72e6,"y":1.0272},{"s":"K30","x":5.13e6,"y":1.0132},{"s":"K30","x":7.24e6,"y":1.0044},{"s":"K30","x":9.33e6,"y":1.0005},
{"s":"K50","x":1.55e6,"y":1.11},{"s":"K50","x":2.19e6,"y":1.0763},{"s":"K50","x":3.16e6,"y":1.0553},{"s":"K50","x":4.27e6,"y":1.0377},{"s":"K50","x":5.75e6,"y":1.0202},{"s":"K50","x":7.59e6,"y":1.0079},{"s":"K50","x":1.12e7,"y":0.9991}],
"n200":[
{"s":"A200","x":2.24e7,"y":1.11},{"s":"A200","x":2.4e7,"y":1.0851},{"s":"A200","x":2.82e7,"y":1.0675},{"s":"A200","x":3.8e7,"y":1.0518},{"s":"A200","x":5.25e7,"y":1.0395},{"s":"A200","x":8.32e7,"y":1.0272},{"s":"A200","x":1.32e8,"y":1.0149},{"s":"A200","x":1.66e8,"y":1.0096},{"s":"A200","x":2.57e8,"y":1.0061},{"s":"A200","x":1e9,"y":0.9985},
{"s":"A100","x":1.1e7,"y":1.11},{"s":"A100","x":1.15e7,"y":1.0886},{"s":"A100","x":1.35e7,"y":1.0675},{"s":"A100","x":1.91e7,"y":1.05},{"s":"A100","x":3.02e7,"y":1.036},{"s":"A100","x":5.25e7,"y":1.0237},{"s":"A100","x":9.33e7,"y":1.0149},{"s":"A100","x":1.32e8,"y":1.0114},{"s":"A100","x":2.57e8,"y":1.0079},
{"s":"A50","x":6.03e6,"y":1.11},{"s":"A50","x":6.46e6,"y":1.0851},{"s":"A50","x":8.71e6,"y":1.0658},{"s":"A50","x":1.35e7,"y":1.05},{"s":"A50","x":2.4e7,"y":1.0377},{"s":"A50","x":4.27e7,"y":1.0272},{"s":"A50","x":7.41e7,"y":1.0202},{"s":"A50","x":1.32e8,"y":1.0149},{"s":"A50","x":2.51e8,"y":1.012},
{"s":"A30","x":2.34e6,"y":1.11},{"s":"A30","x":2.75e6,"y":1.0816},{"s":"A30","x":3.89e6,"y":1.0658},{"s":"A30","x":6.17e6,"y":1.0518},{"s":"A30","x":1.07e7,"y":1.0395},{"s":"A30","x":2.14e7,"y":1.029},{"s":"A30","x":4.27e7,"y":1.0219},{"s":"A30","x":8.32e7,"y":1.0167},{"s":"A30","x":1.32e8,"y":1.014},
{"s":"A20","x":1.78e6,"y":1.11},{"s":"A20","x":2.09e6,"y":1.0798},{"s":"A20","x":2.75e6,"y":1.064},{"s":"A20","x":4.37e6,"y":1.05},{"s":"A20","x":7.76e6,"y":1.0377},{"s":"A20","x":1.35e7,"y":1.029},{"s":"A20","x":2.69e7,"y":1.0237},{"s":"A20","x":5.25e7,"y":1.0184},{"s":"A20","x":1.17e8,"y":1.0149},
{"s":"A10","x":1.15e6,"y":1.11},{"s":"A10","x":1.26e6,"y":1.0904},{"s":"A10","x":1.58e6,"y":1.0728},{"s":"A10","x":2.19e6,"y":1.0553},{"s":"A10","x":3.47e6,"y":1.0412},{"s":"A10","x":6.17e6,"y":1.0307},{"s":"A10","x":1.2e7,"y":1.0219},{"s":"A10","x":2.4e7,"y":1.0167},{"s":"A10","x":4.68e7,"y":1.014},{"s":"A10","x":1.05e8,"y":1.0123},
{"s":"A5","x":7.24e5,"y":1.0798},{"s":"A5","x":8.91e5,"y":1.0658},{"s":"A5","x":1.26e6,"y":1.05},{"s":"A5","x":2e6,"y":1.0377},{"s":"A5","x":3.47e6,"y":1.029},{"s":"A5","x":6.17e6,"y":1.0219},{"s":"A5","x":1.2e7,"y":1.0167},{"s":"A5","x":2.4e7,"y":1.0132},{"s":"A5","x":3.98e7,"y":1.0126},
{"s":"A3","x":7.24e5,"y":1.05},{"s":"A3","x":1e6,"y":1.0395},{"s":"A3","x":1.58e6,"y":1.0307},{"s":"A3","x":2.45e6,"y":1.0237},{"s":"A3","x":3.89e6,"y":1.0202},{"s":"A3","x":6.92e6,"y":1.0167},{"s":"A3","x":1.2e7,"y":1.014},{"s":"A3","x":1.91e7,"y":1.0126},
{"s":"K3","x":1.58e6,"y":1.11},{"s":"K3","x":2.19e6,"y":1.0816},{"s":"K3","x":3.09e6,"y":1.0711},{"s":"K3","x":4.37e6,"y":1.0658},{"s":"K3","x":4.9e6,"y":1.0623},
{"s":"K5","x":1.66e6,"y":1.11},{"s":"K5","x":2.19e6,"y":1.0763},{"s":"K5","x":2.75e6,"y":1.0553},{"s":"K5","x":3.47e6,"y":1.0377},{"s":"K5","x":4.37e6,"y":1.029},{"s":"K5","x":6.17e6,"y":1.0237},{"s":"K5","x":6.92e6,"y":1.023},
{"s":"K10","x":1.78e6,"y":1.11},{"s":"K10","x":2.34e6,"y":1.0728},{"s":"K10","x":3.09e6,"y":1.05},{"s":"K10","x":4.37e6,"y":1.0272},{"s":"K10","x":5.5e6,"y":1.0132},{"s":"K10","x":7.76e6,"y":1.0061},{"s":"K10","x":1.07e7,"y":1.0026},{"s":"K10","x":1.35e7,"y":1.0018},
{"s":"K20","x":1.86e6,"y":1.11},{"s":"K20","x":2.45e6,"y":1.0728},{"s":"K20","x":3.47e6,"y":1.0465},{"s":"K20","x":4.9e6,"y":1.0237},{"s":"K20","x":6.92e6,"y":1.0096},{"s":"K20","x":9.77e6,"y":1.0044},{"s":"K20","x":1.35e7,"y":1.0009},
{"s":"K30","x":2e6,"y":1.11},{"s":"K30","x":2.75e6,"y":1.0728},{"s":"K30","x":3.89e6,"y":1.0465},{"s":"K30","x":5.5e6,"y":1.0237},{"s":"K30","x":7.76e6,"y":1.0096},{"s":"K30","x":1.07e7,"y":1.0026},{"s":"K30","x":1.51e7,"y":1.0},
{"s":"K50","x":2.45e6,"y":1.11},{"s":"K50","x":3.47e6,"y":1.0728},{"s":"K50","x":4.9e6,"y":1.0447},{"s":"K50","x":6.17e6,"y":1.029},{"s":"K50","x":7.76e6,"y":1.0149},{"s":"K50","x":1.07e7,"y":1.0044},{"s":"K50","x":1.7e7,"y":0.9991},
{"s":"K100","x":4.17e6,"y":1.11},{"s":"K100","x":6.17e6,"y":1.0851},{"s":"K100","x":8.71e6,"y":1.0623},{"s":"K100","x":1.2e7,"y":1.0412},{"s":"K100","x":1.51e7,"y":1.0272},{"s":"K100","x":1.91e7,"y":1.0132},{"s":"K100","x":2.4e7,"y":1.0044},{"s":"K100","x":3.02e7,"y":0.9991},
{"s":"K200","x":4.37e6,"y":1.11},{"s":"K200","x":7.76e6,"y":1.0816},{"s":"K200","x":1.2e7,"y":1.0623},{"s":"K200","x":1.7e7,"y":1.0412},{"s":"K200","x":2.14e7,"y":1.0254},{"s":"K200","x":2.69e7,"y":1.0114},{"s":"K200","x":3.39e7,"y":1.0026},{"s":"K200","x":3.8e7,"y":0.9991}],
"n1k":[
{"s":"A200","x":2.45e7,"y":1.11},{"s":"A200","x":2.69e7,"y":1.0763},{"s":"A200","x":3.47e7,"y":1.0588},{"s":"A200","x":5.01e7,"y":1.0447},{"s":"A200","x":8.13e7,"y":1.0325},{"s":"A200","x":1.41e8,"y":1.0237},{"s":"A200","x":2.29e8,"y":1.0184},{"s":"A200","x":4.07e8,"y":1.0096},{"s":"A200","x":7.94e8,"y":1.0009},{"s":"A200","x":1.2e9,"y":0.9974},
{"s":"A100","x":1.02e7,"y":1.11},{"s":"A100","x":1.32e7,"y":1.0851},{"s":"A100","x":1.95e7,"y":1.0711},{"s":"A100","x":3.09e7,"y":1.0605},{"s":"A100","x":5.5e7,"y":1.0518},{"s":"A100","x":9.77e7,"y":1.0447},{"s":"A100","x":1.74e8,"y":1.0404},{"s":"A100","x":2.51e8,"y":1.0395},
{"s":"A50","x":5.62e6,"y":1.11},{"s":"A50","x":7.59e6,"y":1.0851},{"s":"A50","x":1.1e7,"y":1.0711},{"s":"A50","x":1.78e7,"y":1.0605},{"s":"A50","x":3.09e7,"y":1.0535},{"s":"A50","x":5.5e7,"y":1.0482},{"s":"A50","x":9.77e7,"y":1.0421},{"s":"A50","x":1.82e8,"y":1.0368},
{"s":"A30","x":4.47e6,"y":1.11},{"s":"A30","x":5.5e6,"y":1.085},{"s":"A30","x":8.32e6,"y":1.067},{"s":"A30","x":1.45e7,"y":1.056},{"s":"A30","x":2.82e7,"y":1.049},{"s":"A30","x":5.5e7,"y":1.044},{"s":"A30","x":9.77e7,"y":1.04},{"s":"A30","x":1.82e8,"y":1.0365},
{"s":"A20","x":2.88e6,"y":1.0789},{"s":"A20","x":4.68e6,"y":1.0693},{"s":"A20","x":8.32e6,"y":1.0588},{"s":"A20","x":1.45e7,"y":1.0518},{"s":"A20","x":2.82e7,"y":1.0465},{"s":"A20","x":5.5e7,"y":1.043},{"s":"A20","x":9.77e7,"y":1.0395},{"s":"A20","x":1.82e8,"y":1.0363},
{"s":"A10","x":2.88e6,"y":1.07},{"s":"A10","x":4.68e6,"y":1.061},{"s":"A10","x":8.32e6,"y":1.053},{"s":"A10","x":1.45e7,"y":1.0482},{"s":"A10","x":2.57e7,"y":1.0439},{"s":"A10","x":4.57e7,"y":1.0405},{"s":"A10","x":1.17e8,"y":1.0368},
{"s":"A5","x":2.88e6,"y":1.0588},{"s":"A5","x":4.68e6,"y":1.0518},{"s":"A5","x":7.59e6,"y":1.0465},{"s":"A5","x":1.32e7,"y":1.0412},{"s":"A5","x":2.14e7,"y":1.0377},{"s":"A5","x":2.95e7,"y":1.0368},
{"s":"A3","x":2.88e6,"y":1.05},{"s":"A3","x":4.27e6,"y":1.0447},{"s":"A3","x":6.17e6,"y":1.043},{"s":"A3","x":9.12e6,"y":1.0395},{"s":"A3","x":1.32e7,"y":1.0377},{"s":"A3","x":1.95e7,"y":1.0368},
{"s":"K3","x":3.55e6,"y":1.11},{"s":"K3","x":4.68e6,"y":1.0816},{"s":"K3","x":6.92e6,"y":1.0675},{"s":"K3","x":1.1e7,"y":1.0588},{"s":"K3","x":1.78e7,"y":1.0526},{"s":"K3","x":2.82e7,"y":1.0509},{"s":"K3","x":3.09e7,"y":1.0509},
{"s":"K5","x":3.72e6,"y":1.11},{"s":"K5","x":4.68e6,"y":1.0763},{"s":"K5","x":6.17e6,"y":1.0588},{"s":"K5","x":8.32e6,"y":1.0447},{"s":"K5","x":1.2e7,"y":1.036},{"s":"K5","x":1.95e7,"y":1.029},{"s":"K5","x":2.57e7,"y":1.0272},
{"s":"K10","x":3.89e6,"y":1.11},{"s":"K10","x":4.9e6,"y":1.0675},{"s":"K10","x":6.17e6,"y":1.0447},{"s":"K10","x":8.32e6,"y":1.0325},{"s":"K10","x":1.2e7,"y":1.0254},{"s":"K10","x":1.95e7,"y":1.0211},{"s":"K10","x":3.09e7,"y":1.0202},
{"s":"K20","x":3.89e6,"y":1.11},{"s":"K20","x":4.9e6,"y":1.0658},{"s":"K20","x":6.17e6,"y":1.0412},{"s":"K20","x":8.32e6,"y":1.0272},{"s":"K20","x":1.1e7,"y":1.0184},{"s":"K20","x":1.62e7,"y":1.0132},{"s":"K20","x":2.57e7,"y":1.0105},{"s":"K20","x":3.09e7,"y":1.01},
{"s":"K30","x":4.07e6,"y":1.11},{"s":"K30","x":5.13e6,"y":1.0623},{"s":"K30","x":6.92e6,"y":1.0342},{"s":"K30","x":9.12e6,"y":1.0202},{"s":"K30","x":1.32e7,"y":1.0114},{"s":"K30","x":2.14e7,"y":1.0061},{"s":"K30","x":3.8e7,"y":1.0044},
{"s":"K50","x":4.68e6,"y":1.11},{"s":"K50","x":5.62e6,"y":1.0658},{"s":"K50","x":7.59e6,"y":1.036},{"s":"K50","x":1.1e7,"y":1.0202},{"s":"K50","x":1.78e7,"y":1.0096},{"s":"K50","x":3.09e7,"y":1.0035},{"s":"K50","x":4.57e7,"y":1.0018},
{"s":"K100","x":5.62e6,"y":1.11},{"s":"K100","x":7.59e6,"y":1.0763},{"s":"K100","x":1.1e7,"y":1.0447},{"s":"K100","x":1.45e7,"y":1.0272},{"s":"K100","x":1.95e7,"y":1.0132},{"s":"K100","x":2.82e7,"y":1.0044},{"s":"K100","x":4.17e7,"y":1.0009},{"s":"K100","x":5.5e7,"y":1.0},
{"s":"K200","x":7.59e6,"y":1.11},{"s":"K200","x":1e7,"y":1.0833},{"s":"K200","x":1.45e7,"y":1.0588},{"s":"K200","x":1.95e7,"y":1.0377},{"s":"K200","x":2.57e7,"y":1.0202},{"s":"K200","x":3.47e7,"y":1.0079},{"s":"K200","x":4.57e7,"y":1.0009},{"s":"K200","x":5.5e7,"y":0.9991}]
},
"concat":[
{"title":"cifar - k = 50","data":{"name":"c50"},"layer":[
{"mark":{"type":"line","clip":true,"strokeWidth":1.1},"encoding":{
"x":{"field":"x","type":"quantitative","scale":{"type":"log","domain":[870000,1020000000],"nice":false},"axis":{"title":"Distance Computations","labelExpr":"abs(log(datum.value)/LN10-round(log(datum.value)/LN10))<0.01?'10'+['⁰','¹','²','³','⁴','⁵','⁶','⁷','⁸','⁹'][round(log(datum.value)/LN10)]:''"}},
"y":{"field":"y","type":"quantitative","scale":{"domain":[0.995,1.1],"nice":false,"zero":false},"axis":{"title":"Relative Cluster Energy","labelOverlap":false,"labelSeparation":-40,"tickCount":11,"values":[1,1.01,1.02,1.03,1.04,1.05,1.06,1.07,1.08,1.09,1.1]}},
"color":{"field":"s","type":"nominal","scale":{"domain":["A50","A30","A20","A10","A5","A3","K3","K5","K10","K20","K30","K50"],"range":["#dc2a22","#b02020","#962a2a","#763333","#555555","#1d4c4c","#6ad25c","#4cc244","#3aa836","#3f8a40","#3a6b40","#606060"]},"legend":{"title":null,"labelExpr":"slice(datum.label,0,1)=='A'?'AKM - m='+slice(datum.label,1):'k²-means - kₙ='+slice(datum.label,1)"}},
"strokeDash":{"field":"s","type":"nominal","scale":{"domain":["A50","A30","A20","A10","A5","A3","K3","K5","K10","K20","K30","K50"],"range":[[1,0],[1,0],[1,0],[1,0],[1,0],[1,0],[5,2,1,2],[5,2,1,2],[5,2,1,2],[5,2,1,2],[5,2,1,2],[3,2]]},"legend":{"title":null,"labelExpr":"slice(datum.label,0,1)=='A'?'AKM - m='+slice(datum.label,1):'k²-means - kₙ='+slice(datum.label,1)"}}}},
{"data":{"values":[{}]},"mark":{"type":"rule","color":"#000","strokeWidth":1.3},"encoding":{"y":{"datum":1}}},
{"data":{"values":[{}]},"mark":{"type":"rule","color":"#000","strokeWidth":1.2,"strokeDash":[5,3]},"encoding":{"y":{"datum":1.01}}}]},
{"title":"cifar - k = 200","data":{"name":"c200"},"layer":[
{"mark":{"type":"line","clip":true,"strokeWidth":1.1},"encoding":{
"x":{"field":"x","type":"quantitative","scale":{"type":"log","domain":[1230000,3390000000],"nice":false},"axis":{"title":"Distance Computations","labelExpr":"abs(log(datum.value)/LN10-round(log(datum.value)/LN10))<0.01?'10'+['⁰','¹','²','³','⁴','⁵','⁶','⁷','⁸','⁹'][round(log(datum.value)/LN10)]:''"}},
"y":{"field":"y","type":"quantitative","scale":{"domain":[0.995,1.1],"nice":false,"zero":false},"axis":{"title":"Relative Cluster Energy","labelOverlap":false,"labelSeparation":-40,"tickCount":11,"values":[1,1.01,1.02,1.03,1.04,1.05,1.06,1.07,1.08,1.09,1.1]}},
"color":{"field":"s","type":"nominal","scale":{"domain":["A200","A100","A50","A30","A20","A10","A5","A3","K3","K5","K10","K20","K30","K50","K100","K200"],"range":["#ee3b2b","#e52d22","#d42a25","#b02020","#962a2a","#763333","#555555","#1d4c4c","#6ad25c","#4cc244","#3aa836","#3f8a40","#3a6b40","#606060","#5c2e6e","#452050"]},"legend":{"title":null,"labelExpr":"slice(datum.label,0,1)=='A'?'AKM - m='+slice(datum.label,1):'k²-means - kₙ='+slice(datum.label,1)"}},
"strokeDash":{"field":"s","type":"nominal","scale":{"domain":["A200","A100","A50","A30","A20","A10","A5","A3","K3","K5","K10","K20","K30","K50","K100","K200"],"range":[[1,0],[1,0],[1,0],[1,0],[1,0],[1,0],[1,0],[1,0],[5,2,1,2],[5,2,1,2],[5,2,1,2],[5,2,1,2],[5,2,1,2],[3,2],[5,2,1,2],[5,2,1,2]]},"legend":{"title":null,"labelExpr":"slice(datum.label,0,1)=='A'?'AKM - m='+slice(datum.label,1):'k²-means - kₙ='+slice(datum.label,1)"}}}},
{"data":{"values":[{}]},"mark":{"type":"rule","color":"#000","strokeWidth":1.3},"encoding":{"y":{"datum":1}}},
{"data":{"values":[{}]},"mark":{"type":"rule","color":"#000","strokeWidth":1.2,"strokeDash":[5,3]},"encoding":{"y":{"datum":1.01}}}]},
{"title":"cifar - k = 1000","data":{"name":"c1k"},"layer":[
{"mark":{"type":"line","clip":true,"strokeWidth":1.1},"encoding":{
"x":{"field":"x","type":"quantitative","scale":{"type":"log","domain":[760000,3240000000],"nice":false},"axis":{"title":"Distance Computations","labelExpr":"abs(log(datum.value)/LN10-round(log(datum.value)/LN10))<0.01?'10'+['⁰','¹','²','³','⁴','⁵','⁶','⁷','⁸','⁹'][round(log(datum.value)/LN10)]:''"}},
"y":{"field":"y","type":"quantitative","scale":{"domain":[0.995,1.1],"nice":false,"zero":false},"axis":{"title":"Relative Cluster Energy","labelOverlap":false,"labelSeparation":-40,"tickCount":11,"values":[1,1.01,1.02,1.03,1.04,1.05,1.06,1.07,1.08,1.09,1.1]}},
"color":{"field":"s","type":"nominal","scale":{"domain":["A200","A100","A50","A30","A20","A10","A5","A3","K3","K5","K10","K20","K30","K50","K100","K200"],"range":["#ee3b2b","#e52d22","#d42a25","#b02020","#962a2a","#763333","#555555","#1d4c4c","#6ad25c","#4cc244","#3aa836","#3f8a40","#3a6b40","#606060","#5c2e6e","#452050"]},"legend":{"title":null,"labelExpr":"slice(datum.label,0,1)=='A'?'AKM - m='+slice(datum.label,1):'k²-means - kₙ='+slice(datum.label,1)"}},
"strokeDash":{"field":"s","type":"nominal","scale":{"domain":["A200","A100","A50","A30","A20","A10","A5","A3","K3","K5","K10","K20","K30","K50","K100","K200"],"range":[[1,0],[1,0],[1,0],[1,0],[1,0],[1,0],[1,0],[1,0],[5,2,1,2],[5,2,1,2],[5,2,1,2],[5,2,1,2],[5,2,1,2],[3,2],[5,2,1,2],[5,2,1,2]]},"legend":{"title":null,"labelExpr":"slice(datum.label,0,1)=='A'?'AKM - m='+slice(datum.label,1):'k²-means - kₙ='+slice(datum.label,1)"}}}},
{"data":{"values":[{}]},"mark":{"type":"rule","color":"#000","strokeWidth":1.3},"encoding":{"y":{"datum":1}}},
{"data":{"values":[{}]},"mark":{"type":"rule","color":"#000","strokeWidth":1.2,"strokeDash":[5,3]},"encoding":{"y":{"datum":1.01}}}]},
{"title":"cnnvoc - k = 50","data":{"name":"v50"},"layer":[
{"mark":{"type":"line","clip":true,"strokeWidth":1.1},"encoding":{
"x":{"field":"x","type":"quantitative","scale":{"type":"log","domain":[126000,275000000],"nice":false},"axis":{"title":"Distance Computations","labelExpr":"abs(log(datum.value)/LN10-round(log(datum.value)/LN10))<0.01?'10'+['⁰','¹','²','³','⁴','⁵','⁶','⁷','⁸','⁹'][round(log(datum.value)/LN10)]:''"}},
"y":{"field":"y","type":"quantitative","scale":{"domain":[0.995,1.1],"nice":false,"zero":false},"axis":{"title":"Relative Cluster Energy","labelOverlap":false,"labelSeparation":-40,"tickCount":11,"values":[1,1.01,1.02,1.03,1.04,1.05,1.06,1.07,1.08,1.09,1.1]}},
"color":{"field":"s","type":"nominal","scale":{"domain":["A50","A30","A20","A10","A5","A3","K3","K5","K10","K20","K30","K50"],"range":["#dc2a22","#b02020","#962a2a","#763333","#555555","#1d4c4c","#6ad25c","#4cc244","#3aa836","#3f8a40","#3a6b40","#606060"]},"legend":{"title":null,"labelExpr":"slice(datum.label,0,1)=='A'?'AKM - m='+slice(datum.label,1):'k²-means - kₙ='+slice(datum.label,1)"}},
"strokeDash":{"field":"s","type":"nominal","scale":{"domain":["A50","A30","A20","A10","A5","A3","K3","K5","K10","K20","K30","K50"],"range":[[1,0],[1,0],[1,0],[1,0],[1,0],[1,0],[5,2,1,2],[5,2,1,2],[5,2,1,2],[5,2,1,2],[5,2,1,2],[3,2]]},"legend":{"title":null,"labelExpr":"slice(datum.label,0,1)=='A'?'AKM - m='+slice(datum.label,1):'k²-means - kₙ='+slice(datum.label,1)"}}}},
{"data":{"values":[{}]},"mark":{"type":"rule","color":"#000","strokeWidth":1.3},"encoding":{"y":{"datum":1}}},
{"data":{"values":[{}]},"mark":{"type":"rule","color":"#000","strokeWidth":1.2,"strokeDash":[5,3]},"encoding":{"y":{"datum":1.01}}}]},
{"title":"cnnvoc - k = 200","data":{"name":"v200"},"layer":[
{"mark":{"type":"line","clip":true,"strokeWidth":1.1},"encoding":{
"x":{"field":"x","type":"quantitative","scale":{"type":"log","domain":[138000,1050000000],"nice":false},"axis":{"title":"Distance Computations","labelExpr":"abs(log(datum.value)/LN10-round(log(datum.value)/LN10))<0.01?'10'+['⁰','¹','²','³','⁴','⁵','⁶','⁷','⁸','⁹'][round(log(datum.value)/LN10)]:''"}},
"y":{"field":"y","type":"quantitative","scale":{"domain":[0.995,1.1],"nice":false,"zero":false},"axis":{"title":"Relative Cluster Energy","labelOverlap":false,"labelSeparation":-40,"tickCount":11,"values":[1,1.01,1.02,1.03,1.04,1.05,1.06,1.07,1.08,1.09,1.1]}},
"color":{"field":"s","type":"nominal","scale":{"domain":["A200","A100","A50","A30","A20","A10","A5","A3","K3","K5","K10","K20","K30","K50","K100","K200"],"range":["#ee3b2b","#e52d22","#d42a25","#b02020","#962a2a","#763333","#555555","#1d4c4c","#6ad25c","#4cc244","#3aa836","#3f8a40","#3a6b40","#606060","#5c2e6e","#452050"]},"legend":{"title":null,"labelExpr":"slice(datum.label,0,1)=='A'?'AKM - m='+slice(datum.label,1):'k²-means - kₙ='+slice(datum.label,1)"}},
"strokeDash":{"field":"s","type":"nominal","scale":{"domain":["A200","A100","A50","A30","A20","A10","A5","A3","K3","K5","K10","K20","K30","K50","K100","K200"],"range":[[1,0],[1,0],[1,0],[1,0],[1,0],[1,0],[1,0],[1,0],[5,2,1,2],[5,2,1,2],[5,2,1,2],[5,2,1,2],[5,2,1,2],[3,2],[5,2,1,2],[5,2,1,2]]},"legend":{"title":null,"labelExpr":"slice(datum.label,0,1)=='A'?'AKM - m='+slice(datum.label,1):'k²-means - kₙ='+slice(datum.label,1)"}}}},
{"data":{"values":[{}]},"mark":{"type":"rule","color":"#000","strokeWidth":1.3},"encoding":{"y":{"datum":1}}},
{"data":{"values":[{}]},"mark":{"type":"rule","color":"#000","strokeWidth":1.2,"strokeDash":[5,3]},"encoding":{"y":{"datum":1.01}}}]},
{"title":"cnnvoc - k = 1000","data":{"name":"v1k"},"layer":[
{"mark":{"type":"line","clip":true,"strokeWidth":1.1},"encoding":{
"x":{"field":"x","type":"quantitative","scale":{"type":"log","domain":[310000,1150000000],"nice":false},"axis":{"title":"Distance Computations","labelExpr":"abs(log(datum.value)/LN10-round(log(datum.value)/LN10))<0.01?'10'+['⁰','¹','²','³','⁴','⁵','⁶','⁷','⁸','⁹'][round(log(datum.value)/LN10)]:''"}},
"y":{"field":"y","type":"quantitative","scale":{"domain":[0.995,1.1],"nice":false,"zero":false},"axis":{"title":"Relative Cluster Energy","labelOverlap":false,"labelSeparation":-40,"tickCount":11,"values":[1,1.01,1.02,1.03,1.04,1.05,1.06,1.07,1.08,1.09,1.1]}},
"color":{"field":"s","type":"nominal","scale":{"domain":["A200","A100","A50","A30","A20","A10","A5","A3","K3","K5","K10","K20","K30","K50","K100","K200"],"range":["#ee3b2b","#e52d22","#d42a25","#b02020","#962a2a","#763333","#555555","#1d4c4c","#6ad25c","#4cc244","#3aa836","#3f8a40","#3a6b40","#606060","#5c2e6e","#452050"]},"legend":{"title":null,"labelExpr":"slice(datum.label,0,1)=='A'?'AKM - m='+slice(datum.label,1):'k²-means - kₙ='+slice(datum.label,1)"}},
"strokeDash":{"field":"s","type":"nominal","scale":{"domain":["A200","A100","A50","A30","A20","A10","A5","A3","K3","K5","K10","K20","K30","K50","K100","K200"],"range":[[1,0],[1,0],[1,0],[1,0],[1,0],[1,0],[1,0],[1,0],[5,2,1,2],[5,2,1,2],[5,2,1,2],[5,2,1,2],[5,2,1,2],[3,2],[5,2,1,2],[5,2,1,2]]},"legend":{"title":null,"labelExpr":"slice(datum.label,0,1)=='A'?'AKM - m='+slice(datum.label,1):'k²-means - kₙ='+slice(datum.label,1)"}}}},
{"data":{"values":[{}]},"mark":{"type":"rule","color":"#000","strokeWidth":1.3},"encoding":{"y":{"datum":1}}},
{"data":{"values":[{}]},"mark":{"type":"rule","color":"#000","strokeWidth":1.2,"strokeDash":[5,3]},"encoding":{"y":{"datum":1.01}}}]},
{"title":"mnist - k = 50","data":{"name":"m50"},"layer":[
{"mark":{"type":"line","clip":true,"strokeWidth":1.1},"encoding":{
"x":{"field":"x","type":"quantitative","scale":{"type":"log","domain":[630000,1100000000],"nice":false},"axis":{"title":"Distance Computations","labelExpr":"abs(log(datum.value)/LN10-round(log(datum.value)/LN10))<0.01?'10'+['⁰','¹','²','³','⁴','⁵','⁶','⁷','⁸','⁹'][round(log(datum.value)/LN10)]:''"}},
"y":{"field":"y","type":"quantitative","scale":{"domain":[0.995,1.1],"nice":false,"zero":false},"axis":{"title":"Relative Cluster Energy","labelOverlap":false,"labelSeparation":-40,"tickCount":11,"values":[1,1.01,1.02,1.03,1.04,1.05,1.06,1.07,1.08,1.09,1.1]}},
"color":{"field":"s","type":"nominal","scale":{"domain":["A50","A30","A20","A10","A5","A3","K3","K5","K10","K20","K30","K50"],"range":["#dc2a22","#b02020","#962a2a","#763333","#555555","#1d4c4c","#6ad25c","#4cc244","#3aa836","#3f8a40","#3a6b40","#606060"]},"legend":{"title":null,"labelExpr":"slice(datum.label,0,1)=='A'?'AKM - m='+slice(datum.label,1):'k²-means - kₙ='+slice(datum.label,1)"}},
"strokeDash":{"field":"s","type":"nominal","scale":{"domain":["A50","A30","A20","A10","A5","A3","K3","K5","K10","K20","K30","K50"],"range":[[1,0],[1,0],[1,0],[1,0],[1,0],[1,0],[5,2,1,2],[5,2,1,2],[5,2,1,2],[5,2,1,2],[5,2,1,2],[3,2]]},"legend":{"title":null,"labelExpr":"slice(datum.label,0,1)=='A'?'AKM - m='+slice(datum.label,1):'k²-means - kₙ='+slice(datum.label,1)"}}}},
{"data":{"values":[{}]},"mark":{"type":"rule","color":"#000","strokeWidth":1.3},"encoding":{"y":{"datum":1}}},
{"data":{"values":[{}]},"mark":{"type":"rule","color":"#000","strokeWidth":1.2,"strokeDash":[5,3]},"encoding":{"y":{"datum":1.01}}}]},
{"title":"mnist - k = 200","data":{"name":"m200"},"layer":[
{"mark":{"type":"line","clip":true,"strokeWidth":1.1},"encoding":{
"x":{"field":"x","type":"quantitative","scale":{"type":"log","domain":[630000,4070000000],"nice":false},"axis":{"title":"Distance Computations","labelExpr":"abs(log(datum.value)/LN10-round(log(datum.value)/LN10))<0.01?'10'+['⁰','¹','²','³','⁴','⁵','⁶','⁷','⁸','⁹'][round(log(datum.value)/LN10)]:''"}},
"y":{"field":"y","type":"quantitative","scale":{"domain":[0.995,1.1],"nice":false,"zero":false},"axis":{"title":"Relative Cluster Energy","labelOverlap":false,"labelSeparation":-40,"tickCount":11,"values":[1,1.01,1.02,1.03,1.04,1.05,1.06,1.07,1.08,1.09,1.1]}},
"color":{"field":"s","type":"nominal","scale":{"domain":["A200","A100","A50","A30","A20","A10","A5","A3","K3","K5","K10","K20","K30","K50","K100","K200"],"range":["#ee3b2b","#e52d22","#d42a25","#b02020","#962a2a","#763333","#555555","#1d4c4c","#6ad25c","#4cc244","#3aa836","#3f8a40","#3a6b40","#606060","#5c2e6e","#452050"]},"legend":{"title":null,"labelExpr":"slice(datum.label,0,1)=='A'?'AKM - m='+slice(datum.label,1):'k²-means - kₙ='+slice(datum.label,1)"}},
"strokeDash":{"field":"s","type":"nominal","scale":{"domain":["A200","A100","A50","A30","A20","A10","A5","A3","K3","K5","K10","K20","K30","K50","K100","K200"],"range":[[1,0],[1,0],[1,0],[1,0],[1,0],[1,0],[1,0],[1,0],[5,2,1,2],[5,2,1,2],[5,2,1,2],[5,2,1,2],[5,2,1,2],[3,2],[5,2,1,2],[5,2,1,2]]},"legend":{"title":null,"labelExpr":"slice(datum.label,0,1)=='A'?'AKM - m='+slice(datum.label,1):'k²-means - kₙ='+slice(datum.label,1)"}}}},
{"data":{"values":[{}]},"mark":{"type":"rule","color":"#000","strokeWidth":1.3},"encoding":{"y":{"datum":1}}},
{"data":{"values":[{}]},"mark":{"type":"rule","color":"#000","strokeWidth":1.2,"strokeDash":[5,3]},"encoding":{"y":{"datum":1.01}}}]},
{"title":"mnist - k = 1000","data":{"name":"m1k"},"layer":[
{"mark":{"type":"line","clip":true,"strokeWidth":1.1},"encoding":{
"x":{"field":"x","type":"quantitative","scale":{"type":"log","domain":[710000,4570000000],"nice":false},"axis":{"title":"Distance Computations","labelExpr":"abs(log(datum.value)/LN10-round(log(datum.value)/LN10))<0.01?'10'+['⁰','¹','²','³','⁴','⁵','⁶','⁷','⁸','⁹'][round(log(datum.value)/LN10)]:''"}},
"y":{"field":"y","type":"quantitative","scale":{"domain":[0.995,1.1],"nice":false,"zero":false},"axis":{"title":"Relative Cluster Energy","labelOverlap":false,"labelSeparation":-40,"tickCount":11,"values":[1,1.01,1.02,1.03,1.04,1.05,1.06,1.07,1.08,1.09,1.1]}},
"color":{"field":"s","type":"nominal","scale":{"domain":["A200","A100","A50","A30","A20","A10","A5","A3","K3","K5","K10","K20","K30","K50","K100","K200"],"range":["#ee3b2b","#e52d22","#d42a25","#b02020","#962a2a","#763333","#555555","#1d4c4c","#6ad25c","#4cc244","#3aa836","#3f8a40","#3a6b40","#606060","#5c2e6e","#452050"]},"legend":{"title":null,"labelExpr":"slice(datum.label,0,1)=='A'?'AKM - m='+slice(datum.label,1):'k²-means - kₙ='+slice(datum.label,1)"}},
"strokeDash":{"field":"s","type":"nominal","scale":{"domain":["A200","A100","A50","A30","A20","A10","A5","A3","K3","K5","K10","K20","K30","K50","K100","K200"],"range":[[1,0],[1,0],[1,0],[1,0],[1,0],[1,0],[1,0],[1,0],[5,2,1,2],[5,2,1,2],[5,2,1,2],[5,2,1,2],[5,2,1,2],[3,2],[5,2,1,2],[5,2,1,2]]},"legend":{"title":null,"labelExpr":"slice(datum.label,0,1)=='A'?'AKM - m='+slice(datum.label,1):'k²-means - kₙ='+slice(datum.label,1)"}}}},
{"data":{"values":[{}]},"mark":{"type":"rule","color":"#000","strokeWidth":1.3},"encoding":{"y":{"datum":1}}},
{"data":{"values":[{}]},"mark":{"type":"rule","color":"#000","strokeWidth":1.2,"strokeDash":[5,3]},"encoding":{"y":{"datum":1.01}}}]},
{"title":"mnist50 - k = 50","data":{"name":"n50"},"layer":[
{"mark":{"type":"line","clip":true,"strokeWidth":1.1},"encoding":{
"x":{"field":"x","type":"quantitative","scale":{"type":"log","domain":[660000,1100000000],"nice":false},"axis":{"title":"Distance Computations","labelExpr":"abs(log(datum.value)/LN10-round(log(datum.value)/LN10))<0.01?'10'+['⁰','¹','²','³','⁴','⁵','⁶','⁷','⁸','⁹'][round(log(datum.value)/LN10)]:''"}},
"y":{"field":"y","type":"quantitative","scale":{"domain":[0.995,1.1],"nice":false,"zero":false},"axis":{"title":"Relative Cluster Energy","labelOverlap":false,"labelSeparation":-40,"tickCount":11,"values":[1,1.01,1.02,1.03,1.04,1.05,1.06,1.07,1.08,1.09,1.1]}},
"color":{"field":"s","type":"nominal","scale":{"domain":["A50","A30","A20","A10","A5","A3","K3","K5","K10","K20","K30","K50"],"range":["#dc2a22","#b02020","#962a2a","#763333","#555555","#1d4c4c","#6ad25c","#4cc244","#3aa836","#3f8a40","#3a6b40","#606060"]},"legend":{"title":null,"labelExpr":"slice(datum.label,0,1)=='A'?'AKM - m='+slice(datum.label,1):'k²-means - kₙ='+slice(datum.label,1)"}},
"strokeDash":{"field":"s","type":"nominal","scale":{"domain":["A50","A30","A20","A10","A5","A3","K3","K5","K10","K20","K30","K50"],"range":[[1,0],[1,0],[1,0],[1,0],[1,0],[1,0],[5,2,1,2],[5,2,1,2],[5,2,1,2],[5,2,1,2],[5,2,1,2],[3,2]]},"legend":{"title":null,"labelExpr":"slice(datum.label,0,1)=='A'?'AKM - m='+slice(datum.label,1):'k²-means - kₙ='+slice(datum.label,1)"}}}},
{"data":{"values":[{}]},"mark":{"type":"rule","color":"#000","strokeWidth":1.3},"encoding":{"y":{"datum":1}}},
{"data":{"values":[{}]},"mark":{"type":"rule","color":"#000","strokeWidth":1.2,"strokeDash":[5,3]},"encoding":{"y":{"datum":1.01}}}]},
{"title":"mnist50 - k = 200","data":{"name":"n200"},"layer":[
{"mark":{"type":"line","clip":true,"strokeWidth":1.1},"encoding":{
"x":{"field":"x","type":"quantitative","scale":{"type":"log","domain":[720000,4370000000],"nice":false},"axis":{"title":"Distance Computations","labelExpr":"abs(log(datum.value)/LN10-round(log(datum.value)/LN10))<0.01?'10'+['⁰','¹','²','³','⁴','⁵','⁶','⁷','⁸','⁹'][round(log(datum.value)/LN10)]:''"}},
"y":{"field":"y","type":"quantitative","scale":{"domain":[0.995,1.1],"nice":false,"zero":false},"axis":{"title":"Relative Cluster Energy","labelOverlap":false,"labelSeparation":-40,"tickCount":11,"values":[1,1.01,1.02,1.03,1.04,1.05,1.06,1.07,1.08,1.09,1.1]}},
"color":{"field":"s","type":"nominal","scale":{"domain":["A200","A100","A50","A30","A20","A10","A5","A3","K3","K5","K10","K20","K30","K50","K100","K200"],"range":["#ee3b2b","#e52d22","#d42a25","#b02020","#962a2a","#763333","#555555","#1d4c4c","#6ad25c","#4cc244","#3aa836","#3f8a40","#3a6b40","#606060","#5c2e6e","#452050"]},"legend":{"title":null,"labelExpr":"slice(datum.label,0,1)=='A'?'AKM - m='+slice(datum.label,1):'k²-means - kₙ='+slice(datum.label,1)"}},
"strokeDash":{"field":"s","type":"nominal","scale":{"domain":["A200","A100","A50","A30","A20","A10","A5","A3","K3","K5","K10","K20","K30","K50","K100","K200"],"range":[[1,0],[1,0],[1,0],[1,0],[1,0],[1,0],[1,0],[1,0],[5,2,1,2],[5,2,1,2],[5,2,1,2],[5,2,1,2],[5,2,1,2],[3,2],[5,2,1,2],[5,2,1,2]]},"legend":{"title":null,"labelExpr":"slice(datum.label,0,1)=='A'?'AKM - m='+slice(datum.label,1):'k²-means - kₙ='+slice(datum.label,1)"}}}},
{"data":{"values":[{}]},"mark":{"type":"rule","color":"#000","strokeWidth":1.3},"encoding":{"y":{"datum":1}}},
{"data":{"values":[{}]},"mark":{"type":"rule","color":"#000","strokeWidth":1.2,"strokeDash":[5,3]},"encoding":{"y":{"datum":1.01}}}]},
{"title":"mnist50 - k = 1000","data":{"name":"n1k"},"layer":[
{"mark":{"type":"line","clip":true,"strokeWidth":1.1},"encoding":{
"x":{"field":"x","type":"quantitative","scale":{"type":"log","domain":[2900000,4270000000],"nice":false},"axis":{"title":"Distance Computations","labelExpr":"abs(log(datum.value)/LN10-round(log(datum.value)/LN10))<0.01?'10'+['⁰','¹','²','³','⁴','⁵','⁶','⁷','⁸','⁹'][round(log(datum.value)/LN10)]:''"}},
"y":{"field":"y","type":"quantitative","scale":{"domain":[0.995,1.1],"nice":false,"zero":false},"axis":{"title":"Relative Cluster Energy","labelOverlap":false,"labelSeparation":-40,"tickCount":11,"values":[1,1.01,1.02,1.03,1.04,1.05,1.06,1.07,1.08,1.09,1.1]}},
"color":{"field":"s","type":"nominal","scale":{"domain":["A200","A100","A50","A30","A20","A10","A5","A3","K3","K5","K10","K20","K30","K50","K100","K200"],"range":["#ee3b2b","#e52d22","#d42a25","#b02020","#962a2a","#763333","#555555","#1d4c4c","#6ad25c","#4cc244","#3aa836","#3f8a40","#3a6b40","#606060","#5c2e6e","#452050"]},"legend":{"title":null,"labelExpr":"slice(datum.label,0,1)=='A'?'AKM - m='+slice(datum.label,1):'k²-means - kₙ='+slice(datum.label,1)"}},
"strokeDash":{"field":"s","type":"nominal","scale":{"domain":["A200","A100","A50","A30","A20","A10","A5","A3","K3","K5","K10","K20","K30","K50","K100","K200"],"range":[[1,0],[1,0],[1,0],[1,0],[1,0],[1,0],[1,0],[1,0],[5,2,1,2],[5,2,1,2],[5,2,1,2],[5,2,1,2],[5,2,1,2],[3,2],[5,2,1,2],[5,2,1,2]]},"legend":{"title":null,"labelExpr":"slice(datum.label,0,1)=='A'?'AKM - m='+slice(datum.label,1):'k²-means - kₙ='+slice(datum.label,1)"}}}},
{"data":{"values":[{}]},"mark":{"type":"rule","color":"#000","strokeWidth":1.3},"encoding":{"y":{"datum":1}}},
{"data":{"values":[{}]},"mark":{"type":"rule","color":"#000","strokeWidth":1.2,"strokeDash":[5,3]},"encoding":{"y":{"datum":1.01}}}]}
]
}
